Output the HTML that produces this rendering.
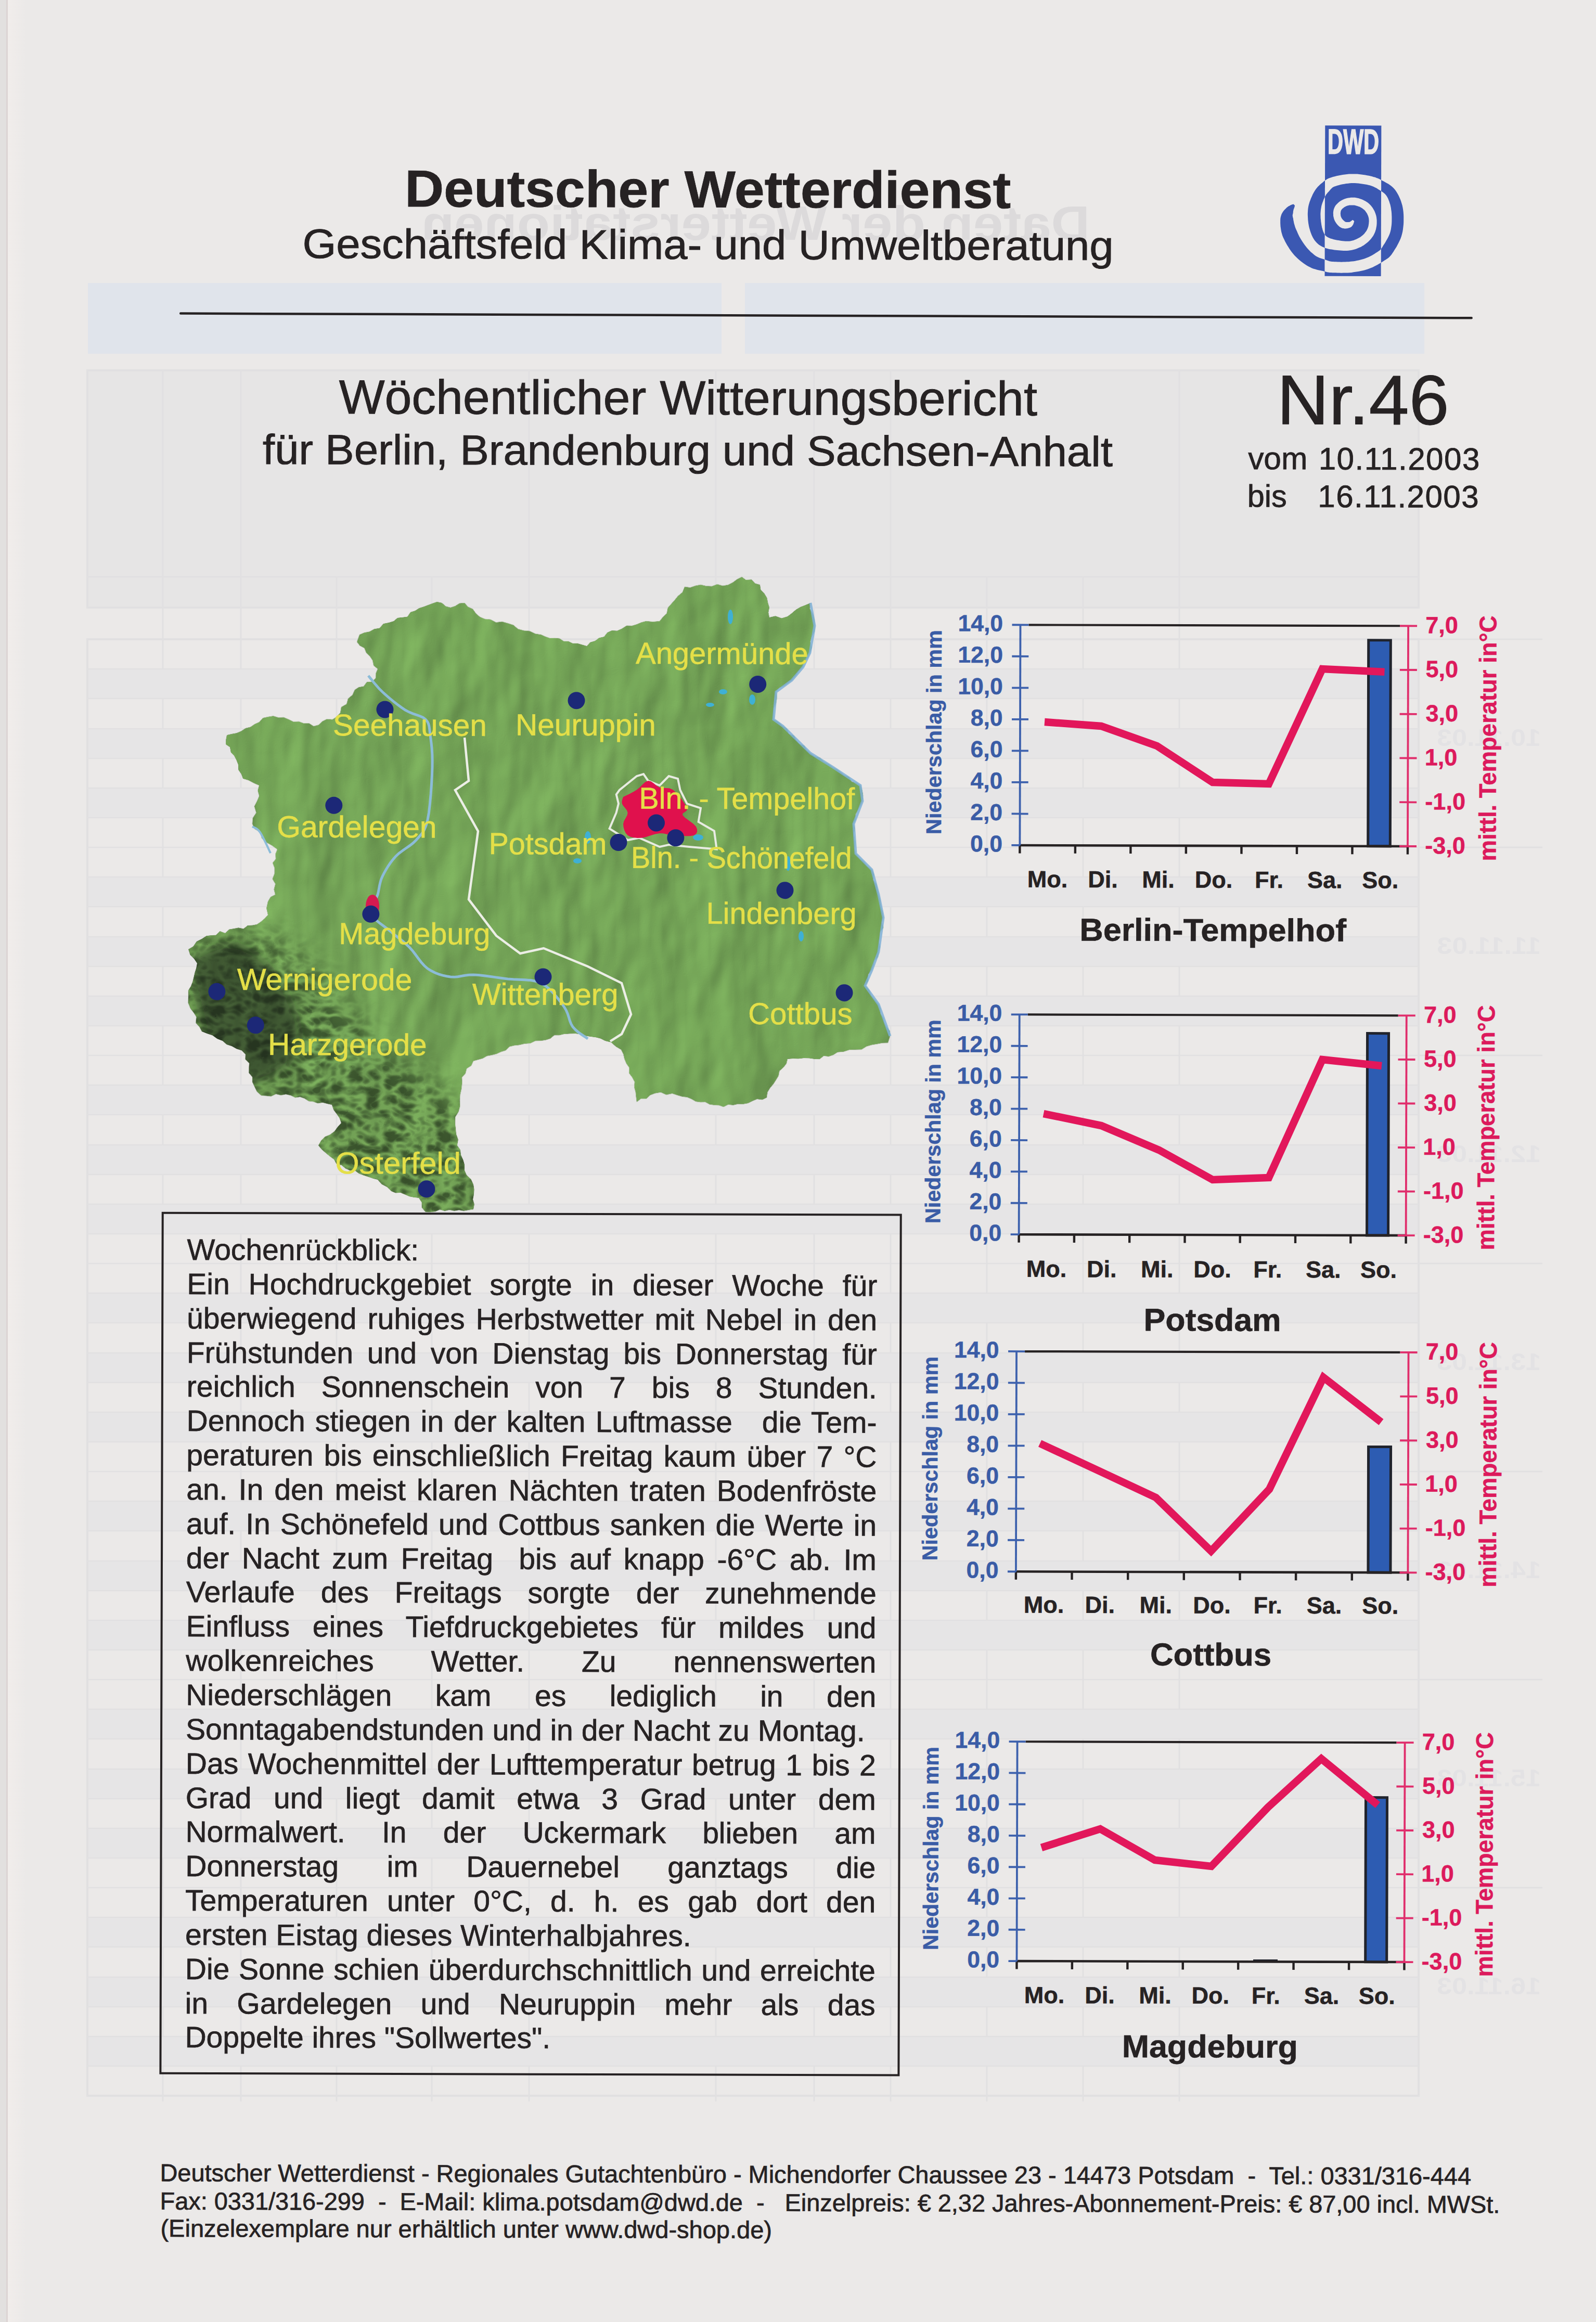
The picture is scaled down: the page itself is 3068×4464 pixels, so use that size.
<!DOCTYPE html>
<html><head><meta charset="utf-8"><title>DWD Witterungsbericht Nr.46</title>
<style>
html,body{margin:0;padding:0;}
body{width:3068px;height:4464px;background:#ebe9e8;position:relative;overflow:hidden;font-family:"Liberation Sans",sans-serif;color:#262223;}
svg{position:absolute;left:0;top:0;overflow:visible;}
svg text{font-family:"Liberation Sans",sans-serif;white-space:pre;}
#page{position:absolute;left:0;top:0;width:3068px;height:4464px;transform:rotate(0.15deg);transform-origin:1534px 2232px;}
.edge{position:absolute;left:0;top:0;width:12px;height:4464px;background:#e2e0df;}
.edge2{position:absolute;left:12px;top:0;width:3px;height:4464px;background:#dcd4d4;}
.edge3{position:absolute;left:15px;top:0;width:35px;height:4464px;background:linear-gradient(to right,#f1edeb,#ebe9e8);}
.box{position:absolute;border:4px solid #262223;box-sizing:border-box;}
.para{position:absolute;width:1327px;font-size:57px;line-height:65.85px;-webkit-text-stroke:0.7px #262223;}
.para div{white-space:nowrap;height:65.85px;}
.para div.j{text-align:justify;text-align-last:justify;white-space:normal;}
</style></head><body>
<div class="edge"></div><div class="edge2"></div><div class="edge3"></div>
<svg width="3068" height="4464" viewBox="0 0 3068 4464"><g opacity="0.55">
<rect x="169" y="544" width="1218" height="136" fill="#d8e0ee"/>
<rect x="1432" y="544" width="1306" height="136" fill="#d8e0ee"/>
<rect x="168" y="712" width="2559" height="456" fill="#e2e2e4" stroke="#dadadd" stroke-width="4"/>
<line x1="168" y1="1109" x2="2727" y2="1109" stroke="#dadadd" stroke-width="3"/>
<line x1="313" y1="712" x2="313" y2="4040" stroke="#dadadd" stroke-width="3"/>
<line x1="463" y1="712" x2="463" y2="4040" stroke="#dadadd" stroke-width="3"/>
<line x1="647" y1="1109" x2="647" y2="4040" stroke="#dadadd" stroke-width="3"/>
<line x1="830" y1="1109" x2="830" y2="4040" stroke="#dadadd" stroke-width="3"/>
<line x1="1017" y1="712" x2="1017" y2="4040" stroke="#dadadd" stroke-width="3"/>
<line x1="1376" y1="712" x2="1376" y2="4040" stroke="#dadadd" stroke-width="3"/>
<line x1="1565" y1="712" x2="1565" y2="4040" stroke="#dadadd" stroke-width="3"/>
<line x1="1712" y1="712" x2="1712" y2="4040" stroke="#dadadd" stroke-width="3"/>
<line x1="1897" y1="1109" x2="1897" y2="4040" stroke="#dadadd" stroke-width="3"/>
<line x1="2082" y1="1109" x2="2082" y2="4040" stroke="#dadadd" stroke-width="3"/>
<line x1="2267" y1="712" x2="2267" y2="4040" stroke="#dadadd" stroke-width="3"/>
<line x1="168" y1="1229" x2="2727" y2="1229" stroke="#dadadd" stroke-width="2.5"/>
<rect x="168" y="1286" width="2559" height="57" fill="#e3e3e5"/>
<line x1="168" y1="1286" x2="2727" y2="1286" stroke="#dadadd" stroke-width="2.5"/>
<line x1="168" y1="1343" x2="2727" y2="1343" stroke="#dadadd" stroke-width="2.5"/>
<rect x="168" y="1401" width="2559" height="57" fill="#e3e3e5"/>
<line x1="168" y1="1401" x2="2727" y2="1401" stroke="#dadadd" stroke-width="2.5"/>
<line x1="168" y1="1458" x2="2727" y2="1458" stroke="#dadadd" stroke-width="2.5"/>
<rect x="168" y="1515" width="2559" height="57" fill="#e3e3e5"/>
<line x1="168" y1="1515" x2="2727" y2="1515" stroke="#dadadd" stroke-width="2.5"/>
<line x1="168" y1="1572" x2="2727" y2="1572" stroke="#dadadd" stroke-width="2.5"/>
<line x1="2727" y1="1229" x2="2965" y2="1229" stroke="#dadadd" stroke-width="3"/>
<text transform="scale(-1,1)" x="-2962" y="1434" font-size="46" font-weight="bold" fill="#dddde1" textLength="200" lengthAdjust="spacingAndGlyphs">10.11.03</text>
<line x1="168" y1="1629" x2="2727" y2="1629" stroke="#dadadd" stroke-width="2.5"/>
<rect x="168" y="1686" width="2559" height="57" fill="#e3e3e5"/>
<line x1="168" y1="1686" x2="2727" y2="1686" stroke="#dadadd" stroke-width="2.5"/>
<line x1="168" y1="1743" x2="2727" y2="1743" stroke="#dadadd" stroke-width="2.5"/>
<rect x="168" y="1801" width="2559" height="57" fill="#e3e3e5"/>
<line x1="168" y1="1801" x2="2727" y2="1801" stroke="#dadadd" stroke-width="2.5"/>
<line x1="168" y1="1858" x2="2727" y2="1858" stroke="#dadadd" stroke-width="2.5"/>
<rect x="168" y="1915" width="2559" height="57" fill="#e3e3e5"/>
<line x1="168" y1="1915" x2="2727" y2="1915" stroke="#dadadd" stroke-width="2.5"/>
<line x1="168" y1="1972" x2="2727" y2="1972" stroke="#dadadd" stroke-width="2.5"/>
<line x1="2727" y1="1629" x2="2965" y2="1629" stroke="#dadadd" stroke-width="3"/>
<text transform="scale(-1,1)" x="-2962" y="1834" font-size="46" font-weight="bold" fill="#dddde1" textLength="200" lengthAdjust="spacingAndGlyphs">11.11.03</text>
<line x1="168" y1="2029" x2="2727" y2="2029" stroke="#dadadd" stroke-width="2.5"/>
<rect x="168" y="2086" width="2559" height="57" fill="#e3e3e5"/>
<line x1="168" y1="2086" x2="2727" y2="2086" stroke="#dadadd" stroke-width="2.5"/>
<line x1="168" y1="2143" x2="2727" y2="2143" stroke="#dadadd" stroke-width="2.5"/>
<rect x="168" y="2201" width="2559" height="57" fill="#e3e3e5"/>
<line x1="168" y1="2201" x2="2727" y2="2201" stroke="#dadadd" stroke-width="2.5"/>
<line x1="168" y1="2258" x2="2727" y2="2258" stroke="#dadadd" stroke-width="2.5"/>
<rect x="168" y="2315" width="2559" height="57" fill="#e3e3e5"/>
<line x1="168" y1="2315" x2="2727" y2="2315" stroke="#dadadd" stroke-width="2.5"/>
<line x1="168" y1="2372" x2="2727" y2="2372" stroke="#dadadd" stroke-width="2.5"/>
<line x1="2727" y1="2029" x2="2965" y2="2029" stroke="#dadadd" stroke-width="3"/>
<text transform="scale(-1,1)" x="-2962" y="2234" font-size="46" font-weight="bold" fill="#dddde1" textLength="200" lengthAdjust="spacingAndGlyphs">12.11.03</text>
<line x1="168" y1="2429" x2="2727" y2="2429" stroke="#dadadd" stroke-width="2.5"/>
<rect x="168" y="2486" width="2559" height="57" fill="#e3e3e5"/>
<line x1="168" y1="2486" x2="2727" y2="2486" stroke="#dadadd" stroke-width="2.5"/>
<line x1="168" y1="2543" x2="2727" y2="2543" stroke="#dadadd" stroke-width="2.5"/>
<rect x="168" y="2601" width="2559" height="57" fill="#e3e3e5"/>
<line x1="168" y1="2601" x2="2727" y2="2601" stroke="#dadadd" stroke-width="2.5"/>
<line x1="168" y1="2658" x2="2727" y2="2658" stroke="#dadadd" stroke-width="2.5"/>
<rect x="168" y="2715" width="2559" height="57" fill="#e3e3e5"/>
<line x1="168" y1="2715" x2="2727" y2="2715" stroke="#dadadd" stroke-width="2.5"/>
<line x1="168" y1="2772" x2="2727" y2="2772" stroke="#dadadd" stroke-width="2.5"/>
<line x1="2727" y1="2429" x2="2965" y2="2429" stroke="#dadadd" stroke-width="3"/>
<text transform="scale(-1,1)" x="-2962" y="2634" font-size="46" font-weight="bold" fill="#dddde1" textLength="200" lengthAdjust="spacingAndGlyphs">13.11.03</text>
<line x1="168" y1="2829" x2="2727" y2="2829" stroke="#dadadd" stroke-width="2.5"/>
<rect x="168" y="2886" width="2559" height="57" fill="#e3e3e5"/>
<line x1="168" y1="2886" x2="2727" y2="2886" stroke="#dadadd" stroke-width="2.5"/>
<line x1="168" y1="2943" x2="2727" y2="2943" stroke="#dadadd" stroke-width="2.5"/>
<rect x="168" y="3001" width="2559" height="57" fill="#e3e3e5"/>
<line x1="168" y1="3001" x2="2727" y2="3001" stroke="#dadadd" stroke-width="2.5"/>
<line x1="168" y1="3058" x2="2727" y2="3058" stroke="#dadadd" stroke-width="2.5"/>
<rect x="168" y="3115" width="2559" height="57" fill="#e3e3e5"/>
<line x1="168" y1="3115" x2="2727" y2="3115" stroke="#dadadd" stroke-width="2.5"/>
<line x1="168" y1="3172" x2="2727" y2="3172" stroke="#dadadd" stroke-width="2.5"/>
<line x1="2727" y1="2829" x2="2965" y2="2829" stroke="#dadadd" stroke-width="3"/>
<text transform="scale(-1,1)" x="-2962" y="3034" font-size="46" font-weight="bold" fill="#dddde1" textLength="200" lengthAdjust="spacingAndGlyphs">14.11.03</text>
<line x1="168" y1="3229" x2="2727" y2="3229" stroke="#dadadd" stroke-width="2.5"/>
<rect x="168" y="3286" width="2559" height="57" fill="#e3e3e5"/>
<line x1="168" y1="3286" x2="2727" y2="3286" stroke="#dadadd" stroke-width="2.5"/>
<line x1="168" y1="3343" x2="2727" y2="3343" stroke="#dadadd" stroke-width="2.5"/>
<rect x="168" y="3401" width="2559" height="57" fill="#e3e3e5"/>
<line x1="168" y1="3401" x2="2727" y2="3401" stroke="#dadadd" stroke-width="2.5"/>
<line x1="168" y1="3458" x2="2727" y2="3458" stroke="#dadadd" stroke-width="2.5"/>
<rect x="168" y="3515" width="2559" height="57" fill="#e3e3e5"/>
<line x1="168" y1="3515" x2="2727" y2="3515" stroke="#dadadd" stroke-width="2.5"/>
<line x1="168" y1="3572" x2="2727" y2="3572" stroke="#dadadd" stroke-width="2.5"/>
<line x1="2727" y1="3229" x2="2965" y2="3229" stroke="#dadadd" stroke-width="3"/>
<text transform="scale(-1,1)" x="-2962" y="3434" font-size="46" font-weight="bold" fill="#dddde1" textLength="200" lengthAdjust="spacingAndGlyphs">15.11.03</text>
<line x1="168" y1="3629" x2="2727" y2="3629" stroke="#dadadd" stroke-width="2.5"/>
<rect x="168" y="3686" width="2559" height="57" fill="#e3e3e5"/>
<line x1="168" y1="3686" x2="2727" y2="3686" stroke="#dadadd" stroke-width="2.5"/>
<line x1="168" y1="3743" x2="2727" y2="3743" stroke="#dadadd" stroke-width="2.5"/>
<rect x="168" y="3801" width="2559" height="57" fill="#e3e3e5"/>
<line x1="168" y1="3801" x2="2727" y2="3801" stroke="#dadadd" stroke-width="2.5"/>
<line x1="168" y1="3858" x2="2727" y2="3858" stroke="#dadadd" stroke-width="2.5"/>
<rect x="168" y="3915" width="2559" height="57" fill="#e3e3e5"/>
<line x1="168" y1="3915" x2="2727" y2="3915" stroke="#dadadd" stroke-width="2.5"/>
<line x1="168" y1="3972" x2="2727" y2="3972" stroke="#dadadd" stroke-width="2.5"/>
<line x1="2727" y1="3629" x2="2965" y2="3629" stroke="#dadadd" stroke-width="3"/>
<text transform="scale(-1,1)" x="-2962" y="3834" font-size="46" font-weight="bold" fill="#dddde1" textLength="200" lengthAdjust="spacingAndGlyphs">16.11.03</text>
<rect x="168" y="1229" width="2559" height="2800" fill="none" stroke="#dadadd" stroke-width="4"/>
</g>
<text transform="scale(-1,1)" x="-2095" y="461" font-size="92" font-weight="bold" fill="#d6d5d6" opacity="0.7" textLength="1285" lengthAdjust="spacingAndGlyphs">Daten der Wetterstationen</text></svg>
<div id="page">
<svg width="3068" height="4464" viewBox="0 0 3068 4464">
<text x="773.2" y="399.0" font-size="100" font-weight="bold" fill="#262223" stroke="#262223" stroke-width="0.8" textLength="1165.2" lengthAdjust="spacingAndGlyphs">Deutscher Wetterdienst</text>
<text x="576.9" y="498.5" font-size="79.5" fill="#262223" stroke="#262223" stroke-width="0.9" textLength="1559.1" lengthAdjust="spacingAndGlyphs">Geschäftsfeld Klima- und Umweltberatung</text>
<line x1="342.9" y1="605.7" x2="2824.4" y2="607.9" stroke="#262223" stroke-width="4.5" stroke-linecap="round"/>
<text x="647.7" y="797.3" font-size="92.5" fill="#262223" stroke="#262223" stroke-width="0.9" textLength="1342.4" lengthAdjust="spacingAndGlyphs">Wöchentlicher Witterungsbericht</text>
<text x="501.3" y="894.7" font-size="81" fill="#262223" stroke="#262223" stroke-width="0.9" textLength="1634.0" lengthAdjust="spacingAndGlyphs">für Berlin, Brandenburg und Sachsen-Anhalt</text>
<text x="2450.9" y="812.8" font-size="135" fill="#262223" stroke="#262223" stroke-width="1.0" textLength="330.9" lengthAdjust="spacingAndGlyphs">Nr.46</text>
<text x="2395.7" y="899.7" font-size="60" fill="#262223" stroke="#262223" stroke-width="0.8" textLength="114.0" lengthAdjust="spacingAndGlyphs">vom</text>
<text x="2531.2" y="899.9" font-size="60" fill="#262223" stroke="#262223" stroke-width="0.8" textLength="309.6" lengthAdjust="spacing">10.11.2003</text>
<text x="2394.5" y="972.0" font-size="60" fill="#262223" stroke="#262223" stroke-width="0.8" textLength="75.8" lengthAdjust="spacingAndGlyphs">bis</text>
<text x="2530.0" y="972.2" font-size="60" fill="#262223" stroke="#262223" stroke-width="0.8" textLength="309.3" lengthAdjust="spacing">16.11.2003</text>
<g transform="translate(2434.7,217.6) scale(0.175439)">
<defs><clipPath id="lrect"><rect x="612" y="120" width="616" height="1650"/></clipPath><mask id="lout"><rect x="0" y="0" width="1700" height="2000" fill="#fff"/><rect x="612" y="120" width="616" height="1650" fill="#000"/></mask></defs>
<path d="M917,1154 L913,1156 L908,1159 L904,1163 L899,1167 L894,1171 L888,1174 L883,1177 L879,1178 L876,1178 L873,1177 L870,1178 L864,1178 L859,1178 L853,1178 L847,1178 L842,1177 L837,1175 L833,1174 L831,1172 L829,1170 L826,1168 L822,1164 L817,1160 L811,1155 L806,1148 L801,1142 L797,1136 L793,1129 L790,1123 L788,1118 L786,1112 L785,1105 L784,1097 L783,1089 L783,1081 L784,1073 L785,1066 L786,1059 L788,1053 L790,1049 L793,1044 L797,1039 L802,1033 L808,1027 L815,1022 L822,1016 L830,1011 L838,1007 L846,1003 L854,1000 L862,997 L871,995 L880,993 L890,992 L901,992 L911,992 L921,992 L932,993 L941,994 L951,996 L960,999 L971,1002 L981,1006 L992,1010 L1002,1015 L1012,1021 L1022,1026 L1030,1033 L1038,1039 L1045,1045 L1052,1052 L1058,1060 L1064,1069 L1070,1078 L1076,1087 L1080,1097 L1085,1107 L1088,1117 L1091,1127 L1093,1137 L1094,1148 L1095,1159 L1095,1171 L1094,1183 L1093,1196 L1091,1209 L1089,1221 L1086,1232 L1082,1243 L1078,1253 L1074,1262 L1069,1271 L1063,1280 L1056,1289 L1049,1298 L1042,1307 L1033,1315 L1025,1323 L1016,1330 L1007,1337 L997,1344 L986,1350 L975,1356 L964,1362 L952,1367 L940,1372 L928,1377 L915,1380 L903,1383 L891,1386 L879,1387 L866,1388 L852,1388 L837,1387 L822,1386 L807,1384 L792,1383 L777,1380 L762,1378 L748,1376 L734,1373 L721,1370 L708,1368 L696,1364 L685,1361 L674,1358 L664,1354 L655,1350 L648,1346 L641,1342 L634,1338 L628,1334 L624,1329 L619,1325 L616,1321 L612,1316 L609,1311 L605,1305 L601,1298 L598,1290 L594,1282 L591,1272 L587,1261 L584,1249 L580,1237 L578,1224 L575,1211 L573,1197 L571,1184 L569,1171 L568,1157 L566,1143 L565,1129 L565,1114 L564,1099 L564,1085 L565,1071 L566,1057 L567,1044 L569,1032 L571,1020 L573,1007 L576,995 L580,982 L584,969 L589,956 L594,943 L598,931 L603,920 L608,910 L612,901 L616,893 L620,886 L623,880 L627,874 L632,869 L636,863 L641,857 L647,850 L654,843 L661,835 L667,828 L673,821 L678,815 L683,810 L687,806 L693,801 L699,797 L707,792 L717,788 L731,783 L747,778 L764,773 L783,768 L803,764 L823,760 L844,756 L864,754 L884,751 L902,750 L920,750 L939,750 L959,751 L979,753 L998,755 L1018,758 L1037,761 L1055,764 L1073,767 L1089,771 L1103,774 L1116,778 L1128,782 L1139,787 L1149,791 L1159,796 L1169,801 L1180,807 L1190,813 L1201,820 L1213,828 L1225,835 L1236,842 L1246,849 L1256,856 L1264,864 L1272,871 L1279,879 L1286,887 L1292,897 L1298,908 L1305,922 L1311,937 L1317,952 L1322,969 L1328,986 L1332,1004 L1336,1022 L1338,1040 L1341,1058 L1343,1078 L1344,1099 L1345,1121 L1345,1144 L1345,1167 L1344,1191 L1342,1213 L1339,1235 L1336,1256 L1332,1274 L1327,1292 L1321,1309 L1313,1328 L1304,1346 L1294,1365 L1284,1382 L1274,1400 L1264,1416 L1254,1431 L1246,1445 L1239,1456 L1234,1463 L1230,1469 L1228,1473 L1225,1476 L1223,1478 L1219,1482 L1213,1487 L1204,1493 L1194,1500 L1183,1508 L1171,1515 L1159,1523 L1145,1532 L1131,1540 L1117,1547 L1103,1555 L1088,1562 L1073,1568 L1059,1574 L1044,1579 L1029,1584 L1013,1588 L997,1592 L980,1596 L963,1600 L946,1603 L929,1606 L911,1608 L894,1610 L876,1612 L856,1613 L836,1614 L815,1614 L794,1615 L774,1614 L754,1614 L735,1613 L718,1613 L703,1612 L691,1611 L682,1610 L675,1609 L670,1608 L666,1607 L662,1606 L656,1604 L649,1602 L640,1599 L629,1595 L616,1591 L603,1586 L590,1582 L576,1578 L563,1573 L551,1569 L539,1563 L527,1558 L517,1552 L506,1545 L495,1537 L484,1527 L472,1517 L459,1506 L447,1494 L436,1482 L424,1470 L413,1457 L402,1443 L392,1430 L382,1416 L372,1401 L361,1385 L351,1369 L341,1351 L331,1334 L323,1317 L315,1300 L308,1284 L302,1270 L296,1257 L290,1243 L285,1229 L281,1215 L277,1202 L273,1188 L271,1175 L268,1162 L266,1151 L265,1141 L263,1133 L261,1128 L260,1122 L259,1116 L258,1110 L258,1104 L259,1097 L261,1089 L263,1080 L264,1072 L264,1065 L265,1058 L267,1050 L269,1041 L272,1033 L275,1025 L278,1017 L280,1009 L282,1003 L282,997 L268,983 L262,984 L256,986 L248,988 L240,992 L232,996 L223,1001 L213,1006 L204,1013 L194,1020 L186,1028 L179,1035 L173,1041 L166,1048 L159,1057 L152,1067 L145,1079 L138,1092 L133,1106 L128,1123 L125,1139 L124,1156 L124,1172 L124,1190 L125,1208 L126,1227 L129,1247 L132,1267 L136,1288 L142,1309 L148,1330 L157,1351 L167,1371 L177,1392 L188,1412 L200,1433 L213,1453 L226,1474 L239,1493 L253,1512 L268,1530 L283,1547 L299,1563 L315,1578 L331,1593 L348,1607 L365,1620 L382,1632 L399,1644 L416,1655 L434,1665 L452,1674 L471,1683 L490,1690 L508,1695 L525,1700 L542,1704 L557,1707 L571,1710 L584,1713 L595,1715 L604,1718 L613,1720 L621,1722 L630,1724 L639,1727 L649,1728 L659,1730 L670,1731 L683,1731 L697,1732 L713,1733 L731,1733 L751,1734 L772,1734 L794,1735 L817,1734 L840,1734 L863,1733 L885,1732 L906,1730 L927,1727 L947,1724 L967,1721 L986,1718 L1006,1713 L1026,1709 L1045,1704 L1064,1699 L1082,1693 L1101,1686 L1119,1679 L1138,1671 L1156,1662 L1173,1653 L1190,1644 L1206,1635 L1222,1626 L1236,1617 L1249,1608 L1262,1600 L1272,1593 L1281,1588 L1290,1582 L1300,1576 L1309,1568 L1319,1560 L1328,1550 L1337,1540 L1346,1528 L1354,1515 L1364,1501 L1374,1485 L1385,1467 L1397,1448 L1408,1427 L1420,1404 L1431,1381 L1442,1357 L1451,1332 L1458,1306 L1464,1280 L1468,1254 L1471,1227 L1474,1199 L1475,1172 L1475,1145 L1475,1118 L1474,1091 L1472,1066 L1469,1042 L1465,1018 L1460,994 L1453,971 L1446,949 L1438,927 L1429,907 L1420,887 L1410,868 L1399,850 L1388,833 L1376,817 L1362,802 L1348,789 L1334,777 L1320,767 L1306,758 L1292,750 L1279,743 L1267,736 L1255,730 L1242,723 L1230,716 L1217,709 L1203,703 L1190,697 L1176,692 L1161,686 L1145,682 L1129,677 L1111,673 L1093,669 L1074,666 L1054,662 L1032,659 L1011,656 L988,653 L966,651 L943,650 L920,650 L898,650 L875,651 L852,653 L829,656 L806,659 L783,663 L761,668 L739,673 L719,678 L700,683 L683,688 L666,694 L650,700 L636,707 L624,715 L612,723 L602,730 L593,738 L585,745 L578,751 L570,757 L562,764 L554,771 L546,779 L538,787 L530,796 L522,805 L514,816 L507,826 L499,838 L492,850 L485,863 L478,876 L472,890 L465,905 L458,921 L452,938 L445,955 L440,972 L435,990 L431,1008 L428,1027 L426,1045 L425,1064 L424,1082 L424,1101 L425,1119 L426,1137 L427,1155 L429,1172 L431,1189 L434,1206 L437,1223 L441,1240 L446,1257 L451,1274 L456,1290 L462,1306 L468,1321 L475,1336 L482,1350 L490,1363 L498,1375 L506,1386 L516,1397 L525,1407 L536,1417 L547,1426 L559,1434 L571,1441 L583,1448 L597,1454 L612,1460 L626,1465 L641,1469 L656,1473 L671,1476 L686,1478 L702,1481 L717,1483 L732,1484 L748,1486 L764,1488 L781,1489 L799,1490 L817,1491 L835,1491 L854,1491 L872,1490 L891,1487 L909,1484 L926,1480 L943,1475 L960,1470 L976,1463 L992,1456 L1008,1449 L1023,1440 L1037,1432 L1050,1423 L1063,1413 L1076,1403 L1088,1392 L1099,1381 L1110,1369 L1121,1357 L1130,1344 L1140,1331 L1148,1317 L1155,1302 L1162,1287 L1167,1271 L1172,1255 L1175,1239 L1178,1222 L1180,1205 L1181,1188 L1181,1172 L1181,1155 L1179,1139 L1177,1123 L1174,1107 L1169,1092 L1164,1077 L1158,1062 L1151,1048 L1143,1034 L1135,1021 L1125,1008 L1116,996 L1105,985 L1093,974 L1081,964 L1068,955 L1054,947 L1040,939 L1026,933 L1012,927 L998,922 L983,917 L969,914 L955,911 L940,909 L925,909 L910,909 L896,909 L881,911 L867,913 L853,916 L839,920 L826,924 L813,930 L801,936 L789,943 L777,950 L766,959 L755,968 L745,978 L735,988 L727,999 L720,1011 L714,1024 L709,1038 L706,1051 L704,1065 L703,1078 L704,1092 L704,1105 L706,1118 L709,1130 L712,1142 L717,1155 L722,1167 L729,1178 L736,1189 L744,1199 L752,1209 L761,1218 L770,1226 L780,1233 L791,1240 L803,1245 L816,1247 L828,1249 L839,1249 L850,1247 L861,1246 L870,1243 L880,1240 L888,1237 L897,1233 L906,1226 L913,1218 L918,1210 L923,1202 L926,1194 L928,1187 L930,1180 L932,1175 L933,1170 L933,1166 Z" fill="#3b58b2" mask="url(#lout)"/>
<rect x="612" y="120" width="616" height="1650" fill="#3b58b2"/>
<path d="M917,1154 L913,1156 L908,1159 L904,1163 L899,1167 L894,1171 L888,1174 L883,1177 L879,1178 L876,1178 L873,1177 L870,1178 L864,1178 L859,1178 L853,1178 L847,1178 L842,1177 L837,1175 L833,1174 L831,1172 L829,1170 L826,1168 L822,1164 L817,1160 L811,1155 L806,1148 L801,1142 L797,1136 L793,1129 L790,1123 L788,1118 L786,1112 L785,1105 L784,1097 L783,1089 L783,1081 L784,1073 L785,1066 L786,1059 L788,1053 L790,1049 L793,1044 L797,1039 L802,1033 L808,1027 L815,1022 L822,1016 L830,1011 L838,1007 L846,1003 L854,1000 L862,997 L871,995 L880,993 L890,992 L901,992 L911,992 L921,992 L932,993 L941,994 L951,996 L960,999 L971,1002 L981,1006 L992,1010 L1002,1015 L1012,1021 L1022,1026 L1030,1033 L1038,1039 L1045,1045 L1052,1052 L1058,1060 L1064,1069 L1070,1078 L1076,1087 L1080,1097 L1085,1107 L1088,1117 L1091,1127 L1093,1137 L1094,1148 L1095,1159 L1095,1171 L1094,1183 L1093,1196 L1091,1209 L1089,1221 L1086,1232 L1082,1243 L1078,1253 L1074,1262 L1069,1271 L1063,1280 L1056,1289 L1049,1298 L1042,1307 L1033,1315 L1025,1323 L1016,1330 L1007,1337 L997,1344 L986,1350 L975,1356 L964,1362 L952,1367 L940,1372 L928,1377 L915,1380 L903,1383 L891,1386 L879,1387 L866,1388 L852,1388 L837,1387 L822,1386 L807,1384 L792,1383 L777,1380 L762,1378 L748,1376 L734,1373 L721,1370 L708,1368 L696,1364 L685,1361 L674,1358 L664,1354 L655,1350 L648,1346 L641,1342 L634,1338 L628,1334 L624,1329 L619,1325 L616,1321 L612,1316 L609,1311 L605,1305 L601,1298 L598,1290 L594,1282 L591,1272 L587,1261 L584,1249 L580,1237 L578,1224 L575,1211 L573,1197 L571,1184 L569,1171 L568,1157 L566,1143 L565,1129 L565,1114 L564,1099 L564,1085 L565,1071 L566,1057 L567,1044 L569,1032 L571,1020 L573,1007 L576,995 L580,982 L584,969 L589,956 L594,943 L598,931 L603,920 L608,910 L612,901 L616,893 L620,886 L623,880 L627,874 L632,869 L636,863 L641,857 L647,850 L654,843 L661,835 L667,828 L673,821 L678,815 L683,810 L687,806 L693,801 L699,797 L707,792 L717,788 L731,783 L747,778 L764,773 L783,768 L803,764 L823,760 L844,756 L864,754 L884,751 L902,750 L920,750 L939,750 L959,751 L979,753 L998,755 L1018,758 L1037,761 L1055,764 L1073,767 L1089,771 L1103,774 L1116,778 L1128,782 L1139,787 L1149,791 L1159,796 L1169,801 L1180,807 L1190,813 L1201,820 L1213,828 L1225,835 L1236,842 L1246,849 L1256,856 L1264,864 L1272,871 L1279,879 L1286,887 L1292,897 L1298,908 L1305,922 L1311,937 L1317,952 L1322,969 L1328,986 L1332,1004 L1336,1022 L1338,1040 L1341,1058 L1343,1078 L1344,1099 L1345,1121 L1345,1144 L1345,1167 L1344,1191 L1342,1213 L1339,1235 L1336,1256 L1332,1274 L1327,1292 L1321,1309 L1313,1328 L1304,1346 L1294,1365 L1284,1382 L1274,1400 L1264,1416 L1254,1431 L1246,1445 L1239,1456 L1234,1463 L1230,1469 L1228,1473 L1225,1476 L1223,1478 L1219,1482 L1213,1487 L1204,1493 L1194,1500 L1183,1508 L1171,1515 L1159,1523 L1145,1532 L1131,1540 L1117,1547 L1103,1555 L1088,1562 L1073,1568 L1059,1574 L1044,1579 L1029,1584 L1013,1588 L997,1592 L980,1596 L963,1600 L946,1603 L929,1606 L911,1608 L894,1610 L876,1612 L856,1613 L836,1614 L815,1614 L794,1615 L774,1614 L754,1614 L735,1613 L718,1613 L703,1612 L691,1611 L682,1610 L675,1609 L670,1608 L666,1607 L662,1606 L656,1604 L649,1602 L640,1599 L629,1595 L616,1591 L603,1586 L590,1582 L576,1578 L563,1573 L551,1569 L539,1563 L527,1558 L517,1552 L506,1545 L495,1537 L484,1527 L472,1517 L459,1506 L447,1494 L436,1482 L424,1470 L413,1457 L402,1443 L392,1430 L382,1416 L372,1401 L361,1385 L351,1369 L341,1351 L331,1334 L323,1317 L315,1300 L308,1284 L302,1270 L296,1257 L290,1243 L285,1229 L281,1215 L277,1202 L273,1188 L271,1175 L268,1162 L266,1151 L265,1141 L263,1133 L261,1128 L260,1122 L259,1116 L258,1110 L258,1104 L259,1097 L261,1089 L263,1080 L264,1072 L264,1065 L265,1058 L267,1050 L269,1041 L272,1033 L275,1025 L278,1017 L280,1009 L282,1003 L282,997 L268,983 L262,984 L256,986 L248,988 L240,992 L232,996 L223,1001 L213,1006 L204,1013 L194,1020 L186,1028 L179,1035 L173,1041 L166,1048 L159,1057 L152,1067 L145,1079 L138,1092 L133,1106 L128,1123 L125,1139 L124,1156 L124,1172 L124,1190 L125,1208 L126,1227 L129,1247 L132,1267 L136,1288 L142,1309 L148,1330 L157,1351 L167,1371 L177,1392 L188,1412 L200,1433 L213,1453 L226,1474 L239,1493 L253,1512 L268,1530 L283,1547 L299,1563 L315,1578 L331,1593 L348,1607 L365,1620 L382,1632 L399,1644 L416,1655 L434,1665 L452,1674 L471,1683 L490,1690 L508,1695 L525,1700 L542,1704 L557,1707 L571,1710 L584,1713 L595,1715 L604,1718 L613,1720 L621,1722 L630,1724 L639,1727 L649,1728 L659,1730 L670,1731 L683,1731 L697,1732 L713,1733 L731,1733 L751,1734 L772,1734 L794,1735 L817,1734 L840,1734 L863,1733 L885,1732 L906,1730 L927,1727 L947,1724 L967,1721 L986,1718 L1006,1713 L1026,1709 L1045,1704 L1064,1699 L1082,1693 L1101,1686 L1119,1679 L1138,1671 L1156,1662 L1173,1653 L1190,1644 L1206,1635 L1222,1626 L1236,1617 L1249,1608 L1262,1600 L1272,1593 L1281,1588 L1290,1582 L1300,1576 L1309,1568 L1319,1560 L1328,1550 L1337,1540 L1346,1528 L1354,1515 L1364,1501 L1374,1485 L1385,1467 L1397,1448 L1408,1427 L1420,1404 L1431,1381 L1442,1357 L1451,1332 L1458,1306 L1464,1280 L1468,1254 L1471,1227 L1474,1199 L1475,1172 L1475,1145 L1475,1118 L1474,1091 L1472,1066 L1469,1042 L1465,1018 L1460,994 L1453,971 L1446,949 L1438,927 L1429,907 L1420,887 L1410,868 L1399,850 L1388,833 L1376,817 L1362,802 L1348,789 L1334,777 L1320,767 L1306,758 L1292,750 L1279,743 L1267,736 L1255,730 L1242,723 L1230,716 L1217,709 L1203,703 L1190,697 L1176,692 L1161,686 L1145,682 L1129,677 L1111,673 L1093,669 L1074,666 L1054,662 L1032,659 L1011,656 L988,653 L966,651 L943,650 L920,650 L898,650 L875,651 L852,653 L829,656 L806,659 L783,663 L761,668 L739,673 L719,678 L700,683 L683,688 L666,694 L650,700 L636,707 L624,715 L612,723 L602,730 L593,738 L585,745 L578,751 L570,757 L562,764 L554,771 L546,779 L538,787 L530,796 L522,805 L514,816 L507,826 L499,838 L492,850 L485,863 L478,876 L472,890 L465,905 L458,921 L452,938 L445,955 L440,972 L435,990 L431,1008 L428,1027 L426,1045 L425,1064 L424,1082 L424,1101 L425,1119 L426,1137 L427,1155 L429,1172 L431,1189 L434,1206 L437,1223 L441,1240 L446,1257 L451,1274 L456,1290 L462,1306 L468,1321 L475,1336 L482,1350 L490,1363 L498,1375 L506,1386 L516,1397 L525,1407 L536,1417 L547,1426 L559,1434 L571,1441 L583,1448 L597,1454 L612,1460 L626,1465 L641,1469 L656,1473 L671,1476 L686,1478 L702,1481 L717,1483 L732,1484 L748,1486 L764,1488 L781,1489 L799,1490 L817,1491 L835,1491 L854,1491 L872,1490 L891,1487 L909,1484 L926,1480 L943,1475 L960,1470 L976,1463 L992,1456 L1008,1449 L1023,1440 L1037,1432 L1050,1423 L1063,1413 L1076,1403 L1088,1392 L1099,1381 L1110,1369 L1121,1357 L1130,1344 L1140,1331 L1148,1317 L1155,1302 L1162,1287 L1167,1271 L1172,1255 L1175,1239 L1178,1222 L1180,1205 L1181,1188 L1181,1172 L1181,1155 L1179,1139 L1177,1123 L1174,1107 L1169,1092 L1164,1077 L1158,1062 L1151,1048 L1143,1034 L1135,1021 L1125,1008 L1116,996 L1105,985 L1093,974 L1081,964 L1068,955 L1054,947 L1040,939 L1026,933 L1012,927 L998,922 L983,917 L969,914 L955,911 L940,909 L925,909 L910,909 L896,909 L881,911 L867,913 L853,916 L839,920 L826,924 L813,930 L801,936 L789,943 L777,950 L766,959 L755,968 L745,978 L735,988 L727,999 L720,1011 L714,1024 L709,1038 L706,1051 L704,1065 L703,1078 L704,1092 L704,1105 L706,1118 L709,1130 L712,1142 L717,1155 L722,1167 L729,1178 L736,1189 L744,1199 L752,1209 L761,1218 L770,1226 L780,1233 L791,1240 L803,1245 L816,1247 L828,1249 L839,1249 L850,1247 L861,1246 L870,1243 L880,1240 L888,1237 L897,1233 L906,1226 L913,1218 L918,1210 L923,1202 L926,1194 L928,1187 L930,1180 L932,1175 L933,1170 L933,1166 Z" fill="#ebe9e8" clip-path="url(#lrect)"/>
<text x="922" y="428" font-size="385" font-weight="bold" fill="#ebe9e8" stroke="#ebe9e8" stroke-width="10" text-anchor="middle" textLength="565" lengthAdjust="spacingAndGlyphs">DWD</text>
</g>
<defs><clipPath id="mapclip"><path d="M837.2,1158.8 L828.6,1161.8 L820.0,1164.9 L811.5,1168.3 L802.9,1171.1 L795.1,1176.0 L786.3,1178.7 L780.4,1187.6 L771.0,1188.8 L761.4,1189.7 L754.3,1196.0 L744.5,1198.9 L734.5,1201.1 L726.9,1209.6 L716.7,1211.2 L707.8,1216.2 L697.7,1218.2 L688.4,1222.2 L683.4,1236.2 L689.0,1243.5 L697.8,1248.2 L701.4,1257.2 L708.4,1263.9 L713.6,1271.8 L715.8,1281.9 L723.5,1288.1 L719.9,1296.8 L719.6,1306.1 L712.6,1312.5 L702.7,1313.3 L696.7,1321.4 L687.3,1323.2 L679.6,1328.2 L675.1,1338.2 L666.7,1345.3 L663.9,1355.7 L653.7,1361.5 L651.8,1372.5 L644.8,1380.3 L636.7,1385.6 L626.0,1384.7 L617.5,1389.0 L610.1,1396.1 L600.8,1398.4 L592.0,1393.0 L581.7,1393.0 L572.3,1389.6 L561.9,1390.0 L552.8,1385.6 L543.1,1381.5 L532.9,1381.9 L523.1,1378.9 L512.8,1380.7 L503.0,1382.9 L496.2,1390.7 L487.4,1394.7 L479.4,1400.3 L469.8,1402.8 L461.6,1408.2 L452.8,1411.9 L443.3,1413.8 L433.9,1415.9 L432.2,1424.8 L431.9,1433.9 L439.8,1439.3 L441.7,1449.2 L448.0,1455.8 L452.4,1464.3 L455.9,1473.0 L456.3,1483.0 L461.8,1491.0 L465.1,1499.8 L475.9,1503.0 L485.8,1508.3 L496.1,1512.7 L493.5,1522.5 L496.3,1533.1 L492.2,1542.7 L487.0,1553.1 L490.7,1565.3 L484.0,1575.4 L483.3,1586.7 L488.1,1596.8 L498.8,1602.4 L501.4,1614.0 L509.4,1621.7 L520.9,1627.9 L531.4,1635.6 L528.0,1644.1 L528.5,1654.0 L522.5,1661.6 L526.3,1671.6 L526.3,1681.8 L522.2,1692.4 L527.9,1702.1 L525.2,1712.6 L527.7,1722.6 L518.8,1727.1 L513.7,1735.7 L510.9,1748.7 L513.8,1761.7 L507.4,1768.4 L500.4,1774.4 L492.8,1779.7 L484.0,1781.6 L474.8,1782.1 L466.9,1788.2 L457.2,1786.3 L448.3,1788.0 L439.4,1789.6 L431.8,1796.8 L421.7,1793.1 L414.1,1800.5 L404.9,1800.9 L395.9,1802.0 L386.7,1807.9 L376.8,1812.9 L370.3,1822.4 L360.9,1828.1 L364.3,1838.5 L372.1,1846.2 L378.0,1855.0 L376.3,1864.1 L373.5,1872.7 L371.5,1881.7 L369.3,1890.6 L366.1,1899.1 L361.1,1907.1 L361.3,1918.9 L360.7,1930.8 L365.2,1942.1 L371.6,1949.9 L376.7,1958.3 L375.7,1969.8 L382.7,1977.3 L387.4,1986.0 L397.6,1989.9 L408.1,1993.4 L417.1,2000.0 L427.4,2003.9 L435.2,2010.9 L445.2,2014.0 L454.1,2019.0 L464.1,2022.2 L471.5,2029.8 L471.1,2039.2 L478.7,2046.7 L478.1,2056.3 L478.1,2065.6 L484.7,2073.3 L484.6,2082.7 L489.1,2092.2 L493.6,2101.6 L501.7,2108.7 L511.2,2109.5 L520.7,2110.5 L530.2,2106.1 L539.7,2108.2 L549.2,2106.3 L558.7,2108.6 L567.0,2112.7 L576.5,2111.2 L585.1,2114.2 L593.1,2119.6 L602.1,2120.6 L610.7,2123.4 L620.2,2122.1 L629.0,2124.3 L637.7,2126.3 L640.9,2135.8 L646.9,2143.8 L652.5,2151.9 L655.8,2161.3 L648.9,2168.9 L642.8,2177.3 L634.4,2183.4 L624.4,2187.8 L617.2,2195.1 L611.9,2204.4 L618.4,2212.2 L626.0,2218.8 L633.7,2225.2 L641.9,2231.3 L647.0,2240.3 L656.3,2242.3 L664.0,2248.6 L672.5,2252.5 L682.5,2252.7 L690.3,2258.6 L699.1,2261.8 L708.1,2264.7 L716.9,2267.8 L726.1,2270.1 L733.7,2278.7 L744.0,2284.1 L752.2,2292.0 L760.7,2295.5 L770.2,2295.0 L778.7,2298.4 L787.1,2302.3 L796.1,2304.0 L805.2,2304.9 L810.7,2313.3 L811.3,2324.1 L818.3,2331.9 L827.5,2332.3 L836.7,2331.3 L845.7,2327.2 L855.1,2330.1 L864.2,2327.7 L873.5,2329.8 L882.6,2328.0 L892.0,2329.7 L901.1,2328.1 L910.2,2326.6 L912.1,2317.0 L909.2,2307.4 L911.1,2297.8 L911.7,2288.2 L910.1,2278.6 L905.3,2268.4 L897.1,2260.7 L893.1,2251.5 L893.1,2241.0 L890.3,2231.5 L886.1,2222.3 L884.9,2212.3 L878.9,2203.7 L880.8,2192.7 L877.0,2182.2 L876.0,2171.5 L874.8,2160.7 L874.9,2149.3 L881.4,2139.1 L884.2,2128.3 L883.7,2116.7 L884.5,2105.7 L886.9,2094.8 L888.0,2083.8 L887.6,2072.7 L894.3,2065.8 L896.8,2056.0 L905.5,2050.4 L909.5,2041.6 L918.5,2039.0 L927.4,2036.4 L935.7,2031.8 L944.9,2029.9 L954.0,2027.7 L962.5,2023.7 L971.5,2021.1 L978.8,2013.8 L987.9,2011.5 L997.4,2010.4 L1007.8,2008.0 L1018.6,2007.3 L1028.6,2002.6 L1039.4,2002.3 L1048.5,2000.8 L1057.2,1997.9 L1064.9,1991.6 L1074.5,1991.6 L1083.4,1989.2 L1094.5,1988.4 L1105.6,1988.3 L1116.6,1989.8 L1127.4,1993.1 L1136.4,1994.2 L1145.4,1995.5 L1154.1,1997.8 L1162.4,2002.0 L1174.2,2005.0 L1183.2,2013.1 L1193.4,2018.9 L1197.7,2027.4 L1199.8,2036.8 L1203.5,2045.6 L1209.1,2053.6 L1208.7,2064.0 L1214.6,2071.8 L1219.5,2080.8 L1218.8,2090.9 L1221.4,2100.4 L1222.4,2110.1 L1223.7,2119.8 L1231.4,2113.3 L1242.1,2113.2 L1249.6,2106.3 L1258.7,2102.7 L1269.9,2100.7 L1280.6,2105.4 L1291.9,2103.1 L1302.7,2106.6 L1311.4,2109.1 L1320.5,2110.0 L1329.0,2113.6 L1337.2,2118.2 L1346.2,2119.5 L1355.6,2119.2 L1363.8,2123.8 L1372.9,2124.9 L1382.1,2125.4 L1390.7,2128.4 L1399.5,2124.1 L1409.3,2124.9 L1418.5,2122.7 L1428.2,2123.1 L1437.5,2121.2 L1446.2,2116.9 L1455.0,2113.3 L1465.0,2114.6 L1473.7,2110.2 L1475.1,2100.1 L1480.1,2091.7 L1486.6,2084.1 L1491.5,2076.3 L1496.2,2068.5 L1498.0,2059.0 L1505.3,2052.5 L1511.2,2045.3 L1513.5,2036.1 L1523.9,2035.2 L1534.3,2035.6 L1544.7,2034.2 L1555.1,2034.6 L1565.5,2035.9 L1575.1,2036.2 L1582.9,2029.9 L1592.7,2030.9 L1601.4,2028.0 L1609.5,2022.8 L1621.2,2021.7 L1632.6,2017.9 L1644.4,2017.7 L1655.6,2017.6 L1665.1,2011.6 L1675.4,2008.6 L1685.7,2006.7 L1695.9,2004.8 L1706.4,2004.5 L1710.4,1991.5 L1710.1,1981.8 L1704.0,1974.1 L1699.6,1965.9 L1697.6,1956.8 L1692.3,1948.8 L1692.1,1939.0 L1688.2,1930.6 L1681.4,1921.8 L1674.1,1913.4 L1670.1,1902.6 L1662.1,1894.7 L1668.3,1885.5 L1667.9,1873.4 L1675.0,1864.6 L1678.5,1855.9 L1680.1,1846.6 L1687.3,1839.3 L1687.9,1829.6 L1691.0,1820.4 L1688.9,1810.5 L1690.3,1801.1 L1690.8,1791.6 L1697.4,1782.9 L1694.2,1772.8 L1696.8,1763.6 L1695.2,1752.4 L1692.1,1741.6 L1690.8,1730.4 L1687.7,1719.6 L1685.7,1709.8 L1683.9,1700.0 L1677.4,1691.5 L1678.8,1680.8 L1674.5,1671.6 L1665.9,1664.8 L1659.1,1656.0 L1650.5,1649.2 L1643.5,1640.7 L1641.5,1631.3 L1642.3,1621.7 L1641.2,1612.2 L1639.8,1602.8 L1641.6,1593.1 L1639.3,1583.7 L1643.2,1575.1 L1643.3,1565.0 L1648.0,1556.7 L1652.5,1548.4 L1656.2,1539.7 L1657.5,1529.3 L1655.9,1519.4 L1652.1,1509.7 L1644.7,1504.5 L1635.2,1502.3 L1630.3,1493.3 L1621.5,1490.2 L1614.5,1484.4 L1607.3,1478.7 L1599.0,1474.8 L1590.9,1468.7 L1581.7,1464.2 L1574.6,1456.5 L1564.2,1453.9 L1555.9,1447.9 L1548.8,1442.0 L1544.2,1433.4 L1534.7,1429.9 L1528.5,1422.9 L1524.2,1414.0 L1514.2,1411.0 L1511.0,1401.0 L1502.8,1396.1 L1494.5,1388.6 L1484.8,1383.1 L1485.3,1372.5 L1485.4,1361.8 L1489.5,1351.5 L1491.3,1341.0 L1489.6,1330.1 L1495.8,1322.8 L1504.5,1319.0 L1512.3,1313.8 L1519.6,1308.0 L1526.9,1299.3 L1533.4,1290.0 L1541.5,1282.0 L1543.8,1272.0 L1550.6,1264.2 L1554.4,1254.9 L1558.2,1244.9 L1555.3,1233.7 L1558.1,1223.4 L1563.5,1213.7 L1563.3,1202.9 L1563.1,1191.6 L1560.3,1180.7 L1554.2,1170.5 L1555.2,1158.9 L1545.7,1162.9 L1536.1,1166.8 L1527.2,1171.9 L1519.4,1178.7 L1511.3,1185.1 L1499.8,1188.6 L1487.8,1184.3 L1476.3,1187.1 L1474.4,1177.7 L1476.2,1168.1 L1473.5,1159.0 L1471.6,1149.5 L1466.6,1141.3 L1459.6,1133.9 L1458.1,1124.2 L1448.8,1121.7 L1441.6,1114.3 L1430.9,1115.1 L1423.1,1109.3 L1414.1,1113.7 L1406.0,1119.8 L1397.1,1124.4 L1386.5,1126.6 L1375.9,1123.6 L1365.3,1127.4 L1354.7,1127.0 L1344.1,1124.5 L1333.9,1126.6 L1323.8,1129.9 L1313.1,1128.6 L1308.9,1139.2 L1300.2,1146.6 L1294.0,1154.3 L1287.3,1161.7 L1280.8,1169.2 L1278.8,1180.0 L1271.4,1186.9 L1265.3,1194.7 L1252.3,1195.9 L1239.3,1194.8 L1230.1,1197.2 L1221.3,1200.9 L1212.3,1203.8 L1201.9,1203.4 L1193.0,1209.2 L1183.7,1213.4 L1173.3,1212.9 L1164.7,1216.9 L1158.5,1224.9 L1148.9,1227.3 L1141.4,1233.0 L1132.0,1235.8 L1125.4,1243.1 L1116.7,1240.5 L1108.0,1238.0 L1098.6,1238.0 L1090.3,1234.0 L1081.0,1233.7 L1073.0,1228.4 L1063.8,1227.7 L1054.4,1227.9 L1045.8,1225.1 L1037.4,1221.3 L1026.2,1219.5 L1015.7,1214.5 L1004.3,1213.4 L993.1,1210.6 L984.2,1202.9 L973.3,1199.5 L962.5,1196.5 L950.8,1198.1 L940.5,1192.5 L929.3,1191.6 L919.8,1187.5 L912.2,1181.1 L906.2,1172.6 L897.0,1168.2 L890.2,1160.7 L880.4,1161.4 L872.2,1166.8 L863.2,1169.8 L854.1,1167.2 L846.6,1160.7 Z"/></clipPath><filter id="relief" x="300" y="1080" width="1450" height="1280" filterUnits="userSpaceOnUse" color-interpolation-filters="sRGB"><feTurbulence type="fractalNoise" baseFrequency="0.011 0.005" numOctaves="3" seed="11" result="n"/><feDiffuseLighting in="n" surfaceScale="6" diffuseConstant="1.0" lighting-color="#ffffff" result="l"><feDistantLight azimuth="225" elevation="50"/></feDiffuseLighting><feComposite in="SourceGraphic" in2="l" operator="arithmetic" k1="1.3" k2="0" k3="0" k4="0.0" result="c"/><feComposite in="c" in2="SourceGraphic" operator="in"/></filter><filter id="harzf" x="300" y="1700" width="700" height="700" filterUnits="userSpaceOnUse" color-interpolation-filters="sRGB"><feTurbulence type="turbulence" baseFrequency="0.03 0.045" numOctaves="2" seed="3" result="t"/><feColorMatrix in="t" type="matrix" values="0 0 0 0 0.08  0 0 0 0 0.12  0 0 0 0 0.07  2.6 0 0 0 -0.3" result="tm"/><feComposite in="tm" in2="SourceGraphic" operator="in"/></filter><filter id="blur8" x="-20%" y="-20%" width="140%" height="140%"><feGaussianBlur stdDeviation="10"/></filter><filter id="blur30" x="-30%" y="-30%" width="160%" height="160%"><feGaussianBlur stdDeviation="28"/></filter></defs>
<path d="M837.2,1158.8 L828.6,1161.8 L820.0,1164.9 L811.5,1168.3 L802.9,1171.1 L795.1,1176.0 L786.3,1178.7 L780.4,1187.6 L771.0,1188.8 L761.4,1189.7 L754.3,1196.0 L744.5,1198.9 L734.5,1201.1 L726.9,1209.6 L716.7,1211.2 L707.8,1216.2 L697.7,1218.2 L688.4,1222.2 L683.4,1236.2 L689.0,1243.5 L697.8,1248.2 L701.4,1257.2 L708.4,1263.9 L713.6,1271.8 L715.8,1281.9 L723.5,1288.1 L719.9,1296.8 L719.6,1306.1 L712.6,1312.5 L702.7,1313.3 L696.7,1321.4 L687.3,1323.2 L679.6,1328.2 L675.1,1338.2 L666.7,1345.3 L663.9,1355.7 L653.7,1361.5 L651.8,1372.5 L644.8,1380.3 L636.7,1385.6 L626.0,1384.7 L617.5,1389.0 L610.1,1396.1 L600.8,1398.4 L592.0,1393.0 L581.7,1393.0 L572.3,1389.6 L561.9,1390.0 L552.8,1385.6 L543.1,1381.5 L532.9,1381.9 L523.1,1378.9 L512.8,1380.7 L503.0,1382.9 L496.2,1390.7 L487.4,1394.7 L479.4,1400.3 L469.8,1402.8 L461.6,1408.2 L452.8,1411.9 L443.3,1413.8 L433.9,1415.9 L432.2,1424.8 L431.9,1433.9 L439.8,1439.3 L441.7,1449.2 L448.0,1455.8 L452.4,1464.3 L455.9,1473.0 L456.3,1483.0 L461.8,1491.0 L465.1,1499.8 L475.9,1503.0 L485.8,1508.3 L496.1,1512.7 L493.5,1522.5 L496.3,1533.1 L492.2,1542.7 L487.0,1553.1 L490.7,1565.3 L484.0,1575.4 L483.3,1586.7 L488.1,1596.8 L498.8,1602.4 L501.4,1614.0 L509.4,1621.7 L520.9,1627.9 L531.4,1635.6 L528.0,1644.1 L528.5,1654.0 L522.5,1661.6 L526.3,1671.6 L526.3,1681.8 L522.2,1692.4 L527.9,1702.1 L525.2,1712.6 L527.7,1722.6 L518.8,1727.1 L513.7,1735.7 L510.9,1748.7 L513.8,1761.7 L507.4,1768.4 L500.4,1774.4 L492.8,1779.7 L484.0,1781.6 L474.8,1782.1 L466.9,1788.2 L457.2,1786.3 L448.3,1788.0 L439.4,1789.6 L431.8,1796.8 L421.7,1793.1 L414.1,1800.5 L404.9,1800.9 L395.9,1802.0 L386.7,1807.9 L376.8,1812.9 L370.3,1822.4 L360.9,1828.1 L364.3,1838.5 L372.1,1846.2 L378.0,1855.0 L376.3,1864.1 L373.5,1872.7 L371.5,1881.7 L369.3,1890.6 L366.1,1899.1 L361.1,1907.1 L361.3,1918.9 L360.7,1930.8 L365.2,1942.1 L371.6,1949.9 L376.7,1958.3 L375.7,1969.8 L382.7,1977.3 L387.4,1986.0 L397.6,1989.9 L408.1,1993.4 L417.1,2000.0 L427.4,2003.9 L435.2,2010.9 L445.2,2014.0 L454.1,2019.0 L464.1,2022.2 L471.5,2029.8 L471.1,2039.2 L478.7,2046.7 L478.1,2056.3 L478.1,2065.6 L484.7,2073.3 L484.6,2082.7 L489.1,2092.2 L493.6,2101.6 L501.7,2108.7 L511.2,2109.5 L520.7,2110.5 L530.2,2106.1 L539.7,2108.2 L549.2,2106.3 L558.7,2108.6 L567.0,2112.7 L576.5,2111.2 L585.1,2114.2 L593.1,2119.6 L602.1,2120.6 L610.7,2123.4 L620.2,2122.1 L629.0,2124.3 L637.7,2126.3 L640.9,2135.8 L646.9,2143.8 L652.5,2151.9 L655.8,2161.3 L648.9,2168.9 L642.8,2177.3 L634.4,2183.4 L624.4,2187.8 L617.2,2195.1 L611.9,2204.4 L618.4,2212.2 L626.0,2218.8 L633.7,2225.2 L641.9,2231.3 L647.0,2240.3 L656.3,2242.3 L664.0,2248.6 L672.5,2252.5 L682.5,2252.7 L690.3,2258.6 L699.1,2261.8 L708.1,2264.7 L716.9,2267.8 L726.1,2270.1 L733.7,2278.7 L744.0,2284.1 L752.2,2292.0 L760.7,2295.5 L770.2,2295.0 L778.7,2298.4 L787.1,2302.3 L796.1,2304.0 L805.2,2304.9 L810.7,2313.3 L811.3,2324.1 L818.3,2331.9 L827.5,2332.3 L836.7,2331.3 L845.7,2327.2 L855.1,2330.1 L864.2,2327.7 L873.5,2329.8 L882.6,2328.0 L892.0,2329.7 L901.1,2328.1 L910.2,2326.6 L912.1,2317.0 L909.2,2307.4 L911.1,2297.8 L911.7,2288.2 L910.1,2278.6 L905.3,2268.4 L897.1,2260.7 L893.1,2251.5 L893.1,2241.0 L890.3,2231.5 L886.1,2222.3 L884.9,2212.3 L878.9,2203.7 L880.8,2192.7 L877.0,2182.2 L876.0,2171.5 L874.8,2160.7 L874.9,2149.3 L881.4,2139.1 L884.2,2128.3 L883.7,2116.7 L884.5,2105.7 L886.9,2094.8 L888.0,2083.8 L887.6,2072.7 L894.3,2065.8 L896.8,2056.0 L905.5,2050.4 L909.5,2041.6 L918.5,2039.0 L927.4,2036.4 L935.7,2031.8 L944.9,2029.9 L954.0,2027.7 L962.5,2023.7 L971.5,2021.1 L978.8,2013.8 L987.9,2011.5 L997.4,2010.4 L1007.8,2008.0 L1018.6,2007.3 L1028.6,2002.6 L1039.4,2002.3 L1048.5,2000.8 L1057.2,1997.9 L1064.9,1991.6 L1074.5,1991.6 L1083.4,1989.2 L1094.5,1988.4 L1105.6,1988.3 L1116.6,1989.8 L1127.4,1993.1 L1136.4,1994.2 L1145.4,1995.5 L1154.1,1997.8 L1162.4,2002.0 L1174.2,2005.0 L1183.2,2013.1 L1193.4,2018.9 L1197.7,2027.4 L1199.8,2036.8 L1203.5,2045.6 L1209.1,2053.6 L1208.7,2064.0 L1214.6,2071.8 L1219.5,2080.8 L1218.8,2090.9 L1221.4,2100.4 L1222.4,2110.1 L1223.7,2119.8 L1231.4,2113.3 L1242.1,2113.2 L1249.6,2106.3 L1258.7,2102.7 L1269.9,2100.7 L1280.6,2105.4 L1291.9,2103.1 L1302.7,2106.6 L1311.4,2109.1 L1320.5,2110.0 L1329.0,2113.6 L1337.2,2118.2 L1346.2,2119.5 L1355.6,2119.2 L1363.8,2123.8 L1372.9,2124.9 L1382.1,2125.4 L1390.7,2128.4 L1399.5,2124.1 L1409.3,2124.9 L1418.5,2122.7 L1428.2,2123.1 L1437.5,2121.2 L1446.2,2116.9 L1455.0,2113.3 L1465.0,2114.6 L1473.7,2110.2 L1475.1,2100.1 L1480.1,2091.7 L1486.6,2084.1 L1491.5,2076.3 L1496.2,2068.5 L1498.0,2059.0 L1505.3,2052.5 L1511.2,2045.3 L1513.5,2036.1 L1523.9,2035.2 L1534.3,2035.6 L1544.7,2034.2 L1555.1,2034.6 L1565.5,2035.9 L1575.1,2036.2 L1582.9,2029.9 L1592.7,2030.9 L1601.4,2028.0 L1609.5,2022.8 L1621.2,2021.7 L1632.6,2017.9 L1644.4,2017.7 L1655.6,2017.6 L1665.1,2011.6 L1675.4,2008.6 L1685.7,2006.7 L1695.9,2004.8 L1706.4,2004.5 L1710.4,1991.5 L1710.1,1981.8 L1704.0,1974.1 L1699.6,1965.9 L1697.6,1956.8 L1692.3,1948.8 L1692.1,1939.0 L1688.2,1930.6 L1681.4,1921.8 L1674.1,1913.4 L1670.1,1902.6 L1662.1,1894.7 L1668.3,1885.5 L1667.9,1873.4 L1675.0,1864.6 L1678.5,1855.9 L1680.1,1846.6 L1687.3,1839.3 L1687.9,1829.6 L1691.0,1820.4 L1688.9,1810.5 L1690.3,1801.1 L1690.8,1791.6 L1697.4,1782.9 L1694.2,1772.8 L1696.8,1763.6 L1695.2,1752.4 L1692.1,1741.6 L1690.8,1730.4 L1687.7,1719.6 L1685.7,1709.8 L1683.9,1700.0 L1677.4,1691.5 L1678.8,1680.8 L1674.5,1671.6 L1665.9,1664.8 L1659.1,1656.0 L1650.5,1649.2 L1643.5,1640.7 L1641.5,1631.3 L1642.3,1621.7 L1641.2,1612.2 L1639.8,1602.8 L1641.6,1593.1 L1639.3,1583.7 L1643.2,1575.1 L1643.3,1565.0 L1648.0,1556.7 L1652.5,1548.4 L1656.2,1539.7 L1657.5,1529.3 L1655.9,1519.4 L1652.1,1509.7 L1644.7,1504.5 L1635.2,1502.3 L1630.3,1493.3 L1621.5,1490.2 L1614.5,1484.4 L1607.3,1478.7 L1599.0,1474.8 L1590.9,1468.7 L1581.7,1464.2 L1574.6,1456.5 L1564.2,1453.9 L1555.9,1447.9 L1548.8,1442.0 L1544.2,1433.4 L1534.7,1429.9 L1528.5,1422.9 L1524.2,1414.0 L1514.2,1411.0 L1511.0,1401.0 L1502.8,1396.1 L1494.5,1388.6 L1484.8,1383.1 L1485.3,1372.5 L1485.4,1361.8 L1489.5,1351.5 L1491.3,1341.0 L1489.6,1330.1 L1495.8,1322.8 L1504.5,1319.0 L1512.3,1313.8 L1519.6,1308.0 L1526.9,1299.3 L1533.4,1290.0 L1541.5,1282.0 L1543.8,1272.0 L1550.6,1264.2 L1554.4,1254.9 L1558.2,1244.9 L1555.3,1233.7 L1558.1,1223.4 L1563.5,1213.7 L1563.3,1202.9 L1563.1,1191.6 L1560.3,1180.7 L1554.2,1170.5 L1555.2,1158.9 L1545.7,1162.9 L1536.1,1166.8 L1527.2,1171.9 L1519.4,1178.7 L1511.3,1185.1 L1499.8,1188.6 L1487.8,1184.3 L1476.3,1187.1 L1474.4,1177.7 L1476.2,1168.1 L1473.5,1159.0 L1471.6,1149.5 L1466.6,1141.3 L1459.6,1133.9 L1458.1,1124.2 L1448.8,1121.7 L1441.6,1114.3 L1430.9,1115.1 L1423.1,1109.3 L1414.1,1113.7 L1406.0,1119.8 L1397.1,1124.4 L1386.5,1126.6 L1375.9,1123.6 L1365.3,1127.4 L1354.7,1127.0 L1344.1,1124.5 L1333.9,1126.6 L1323.8,1129.9 L1313.1,1128.6 L1308.9,1139.2 L1300.2,1146.6 L1294.0,1154.3 L1287.3,1161.7 L1280.8,1169.2 L1278.8,1180.0 L1271.4,1186.9 L1265.3,1194.7 L1252.3,1195.9 L1239.3,1194.8 L1230.1,1197.2 L1221.3,1200.9 L1212.3,1203.8 L1201.9,1203.4 L1193.0,1209.2 L1183.7,1213.4 L1173.3,1212.9 L1164.7,1216.9 L1158.5,1224.9 L1148.9,1227.3 L1141.4,1233.0 L1132.0,1235.8 L1125.4,1243.1 L1116.7,1240.5 L1108.0,1238.0 L1098.6,1238.0 L1090.3,1234.0 L1081.0,1233.7 L1073.0,1228.4 L1063.8,1227.7 L1054.4,1227.9 L1045.8,1225.1 L1037.4,1221.3 L1026.2,1219.5 L1015.7,1214.5 L1004.3,1213.4 L993.1,1210.6 L984.2,1202.9 L973.3,1199.5 L962.5,1196.5 L950.8,1198.1 L940.5,1192.5 L929.3,1191.6 L919.8,1187.5 L912.2,1181.1 L906.2,1172.6 L897.0,1168.2 L890.2,1160.7 L880.4,1161.4 L872.2,1166.8 L863.2,1169.8 L854.1,1167.2 L846.6,1160.7 Z" fill="#74a457" filter="url(#relief)"/>
<g clip-path="url(#mapclip)">
<mask id="harzm"><path d="M338.9,1823.1 L353.3,1818.9 L373.3,1812.3 L397.0,1804.9 L422.2,1798.1 L446.8,1793.6 L468.8,1792.8 L488.7,1796.0 L508.1,1801.9 L527.0,1810.1 L545.2,1820.0 L562.6,1831.0 L579.0,1842.5 L594.1,1855.1 L607.9,1869.5 L621.0,1884.9 L633.6,1900.9 L646.2,1916.9 L659.2,1932.3 L672.4,1947.5 L685.2,1963.0 L698.1,1978.4 L711.2,1993.6 L724.9,2008.3 L739.4,2022.1 L755.2,2034.6 L772.1,2046.1 L789.5,2056.9 L807.0,2067.8 L823.9,2079.3 L839.6,2091.8 L854.8,2104.8 L870.1,2117.7 L884.7,2131.1 L898.3,2145.7 L910.2,2162.4 L919.9,2181.6 L928.8,2205.9 L937.8,2235.3 L945.1,2266.5 L949.1,2296.7 L948.0,2322.7 L940.3,2341.6 L924.1,2353.3 L900.3,2360.5 L871.6,2363.6 L840.3,2362.9 L809.1,2358.9 L780.3,2352.0 L752.9,2340.8 L724.7,2324.7 L696.4,2305.3 L669.0,2284.1 L643.3,2262.6 L620.0,2242.4 L599.8,2222.3 L582.1,2201.0 L566.1,2179.4 L550.9,2158.5 L535.7,2139.3 L519.7,2122.7 L502.8,2109.3 L485.6,2098.7 L468.4,2089.7 L451.5,2081.4 L435.1,2072.8 L419.6,2062.9 L404.1,2051.1 L388.4,2037.8 L373.2,2024.3 L359.4,2011.6 L347.9,2000.8 L339.4,1993.1 Z" fill="#fff" filter="url(#blur30)"/></mask>
<rect x="300" y="1750" width="700" height="650" fill="#111" mask="url(#harzm)" filter="url(#harzf)" opacity="0.6"/>
<path d="M361.0,1848.1 L369.6,1844.0 L381.5,1837.8 L395.6,1830.8 L410.6,1824.2 L425.5,1819.5 L438.9,1817.9 L451.3,1819.4 L463.6,1823.0 L475.7,1828.4 L487.4,1835.3 L498.6,1843.5 L509.0,1852.7 L518.9,1863.4 L528.5,1876.0 L537.5,1889.8 L545.8,1904.3 L553.1,1918.7 L559.2,1932.6 L564.5,1946.2 L569.1,1960.1 L572.8,1974.1 L575.1,1987.7 L575.8,2000.6 L574.4,2012.5 L570.6,2023.7 L564.5,2034.4 L556.7,2044.4 L547.9,2053.5 L538.6,2061.3 L529.6,2067.6 L520.6,2072.8 L511.1,2077.1 L501.2,2080.2 L490.9,2081.6 L480.4,2081.0 L469.6,2077.8 L457.7,2070.6 L444.4,2059.3 L430.8,2046.0 L418.0,2032.6 L407.2,2020.9 L399.4,2013.0 Z" fill="#141c12" opacity="0.55" filter="url(#blur8)"/>
</g>
<path d="M1555.2,1158.9 L1563.3,1202.9 L1554.4,1254.9 L1541.5,1282.0 L1519.6,1308.0 L1489.6,1330.1 L1484.8,1383.1 L1502.8,1396.1 L1555.9,1447.9 L1599.0,1474.8 L1652.1,1509.7 L1656.2,1539.7 L1639.3,1583.7 L1643.5,1640.7 L1674.5,1671.6 L1687.7,1719.6 L1696.8,1763.6 L1687.9,1829.6 L1675.0,1864.6 L1662.1,1894.7 L1688.2,1930.6 L1710.4,1991.5" fill="none" stroke="#7fb0d6" stroke-width="5" opacity="0.85"/>
<path d="M705.6,1301.2 L708.3,1304.5 L712.0,1309.0 L716.3,1314.4 L721.4,1320.3 L726.8,1326.4 L732.6,1332.1 L739.1,1337.9 L746.3,1344.1 L753.9,1350.4 L761.8,1356.5 L769.5,1362.1 L776.7,1367.0 L783.9,1370.8 L791.2,1373.8 L798.4,1376.2 L805.2,1378.6 L811.1,1381.4 L815.8,1384.9 L819.1,1388.8 L821.2,1392.8 L822.5,1397.1 L823.3,1402.0 L824.0,1407.9 L824.9,1414.9 L826.0,1422.9 L827.1,1431.7 L828.1,1441.4 L828.8,1452.1 L829.1,1463.9 L829.0,1476.8 L828.5,1492.1 L827.6,1509.9 L826.3,1528.8 L824.6,1547.3 L822.7,1564.2 L820.3,1577.9 L817.6,1588.1 L814.6,1595.8 L811.2,1601.8 L807.4,1606.8 L803.2,1611.6 L798.4,1616.9 L792.7,1622.5 L786.2,1627.6 L779.2,1632.5 L772.1,1637.4 L765.4,1642.5 L759.5,1648.0 L754.2,1654.1 L749.2,1660.6 L744.6,1667.3 L740.5,1674.1 L736.8,1680.7 L733.6,1687.1 L731.1,1693.1 L729.5,1699.0 L728.2,1704.7 L727.2,1710.4 L726.1,1716.2 L724.7,1722.1 L722.3,1728.2 L719.1,1734.5 L715.9,1740.8 L713.3,1747.0 L712.0,1753.2 L712.8,1759.1 L716.0,1764.9 L721.2,1770.5 L727.7,1776.0 L735.0,1781.4 L742.2,1786.7 L748.8,1792.1 L755.0,1797.2 L761.2,1802.1 L767.4,1807.0 L773.7,1812.0 L779.8,1817.3 L785.9,1823.0 L791.8,1829.5 L797.4,1836.8 L803.0,1844.3 L808.7,1851.7 L814.7,1858.4 L821.0,1863.9 L827.9,1868.2 L835.1,1871.8 L842.5,1874.6 L850.1,1876.9 L857.6,1878.5 L865.1,1879.8 L872.2,1880.1 L878.9,1879.4 L885.7,1878.2 L892.8,1876.9 L900.5,1875.9 L909.1,1875.6 L918.8,1876.2 L929.5,1877.4 L940.8,1878.8 L952.4,1880.4 L963.9,1882.0 L975.1,1883.5 L986.1,1884.3 L997.3,1884.7 L1008.5,1885.1 L1019.3,1885.9 L1029.6,1887.8 L1039.1,1891.3 L1047.9,1896.7 L1056.3,1903.7 L1064.1,1911.8 L1071.3,1920.3 L1077.7,1928.6 L1083.2,1936.2 L1087.5,1943.2 L1090.5,1950.2 L1092.7,1957.0 L1094.7,1963.6 L1097.1,1969.6 L1100.3,1975.1 L1104.8,1980.1 L1110.2,1984.8 L1115.9,1989.0 L1121.4,1992.7 L1126.1,1995.7 L1129.4,1998.1" fill="none" stroke="#8cbcd8" stroke-width="5"/>
<path d="M483.3,1591.7 L484.9,1592.6 L487.0,1593.5 L489.6,1594.7 L492.4,1596.5 L495.4,1599.1 L498.3,1602.7 L501.6,1608.2 L505.4,1615.4 L509.3,1623.4 L513.1,1631.2 L516.2,1638.0 L518.5,1642.7" fill="none" stroke="#8cbcd8" stroke-width="4"/>
<path d="M890.9,1419.7 L899.1,1502.7 L873.1,1520.7 L917.3,1599.6 L899.7,1730.7 L952.9,1800.5 L999.0,1834.4 L1043.9,1824.3 L1129.0,1859.1 L1194.1,1890.9 L1212.3,1950.8 L1194.4,1988.9 L1172.4,2002.9" fill="none" stroke="#eceee6" stroke-width="4.5"/>
<path d="M1182.9,1528.3 L1189.1,1519.5 L1222.1,1492.8 L1235.1,1488.8 L1244.1,1501.8 L1266.1,1510.7 L1283.7,1492.7 L1301.1,1497.6 L1305.6,1519.2 L1318.9,1545.6 L1345.2,1554.2 L1340.9,1580.5 L1371.3,1597.9 L1376.1,1633.0 L1323.4,1628.5 L1284.0,1624.6 L1266.4,1628.7 L1227.0,1611.5 L1205.1,1615.9 L1169.9,1594.0 L1182.9,1563.4 L1187.2,1545.9 Z" fill="none" stroke="#e8ebe2" stroke-width="4"/>
<path d="M1196.2,1532.9 L1200.9,1530.6 L1207.8,1527.3 L1215.3,1523.4 L1222.1,1519.4 L1227.9,1514.6 L1233.4,1508.9 L1238.7,1504.1 L1244.1,1501.8 L1249.5,1503.0 L1254.9,1506.8 L1260.3,1511.3 L1266.1,1514.7 L1272.3,1515.7 L1278.8,1515.6 L1285.5,1516.2 L1292.1,1519.2 L1299.6,1526.4 L1307.7,1536.2 L1314.7,1546.3 L1318.9,1554.3 L1318.4,1558.9 L1314.6,1561.7 L1310.8,1564.2 L1310.3,1567.6 L1315.0,1572.6 L1323.0,1578.3 L1331.1,1584.2 L1336.3,1589.5 L1338.3,1594.5 L1338.5,1599.4 L1336.6,1603.6 L1332.4,1606.5 L1324.6,1607.8 L1313.7,1607.9 L1302.2,1607.3 L1292.4,1606.6 L1285.1,1605.6 L1279.0,1604.1 L1273.2,1602.9 L1266.4,1602.7 L1258.0,1604.3 L1248.9,1607.1 L1239.7,1609.9 L1231.4,1611.5 L1223.8,1611.7 L1216.6,1611.1 L1210.2,1609.6 L1205.1,1606.9 L1201.2,1602.6 L1198.5,1596.9 L1196.9,1590.8 L1196.3,1584.9 L1197.7,1579.4 L1200.8,1573.8 L1203.8,1568.4 L1204.9,1563.4 L1203.3,1558.6 L1199.8,1554.1 L1196.2,1549.8 L1193.9,1545.9 L1193.6,1542.0 L1194.3,1538.3 L1195.4,1535.1 L1196.2,1532.9 Z" fill="#e0114d"/>
<ellipse cx="714.7" cy="1744.1" rx="13" ry="22" fill="#d61a50"/>
<ellipse cx="1401.3" cy="1186.3" rx="5" ry="14" fill="#3fb0d4"/>
<ellipse cx="1387.6" cy="1330.4" rx="8" ry="5" fill="#3fb0d4"/>
<ellipse cx="1443.7" cy="1345.2" rx="6" ry="10" fill="#3fb0d4"/>
<ellipse cx="1362.7" cy="1355.4" rx="8" ry="4" fill="#3fb0d4"/>
<ellipse cx="1128.4" cy="1611.1" rx="6" ry="12" fill="#3fb0d4"/>
<ellipse cx="1108.5" cy="1656.1" rx="8" ry="5" fill="#3fb0d4"/>
<ellipse cx="1340.4" cy="1610.5" rx="10" ry="6" fill="#3fb0d4"/>
<ellipse cx="1513.5" cy="1660.1" rx="5" ry="14" fill="#3fb0d4"/>
<ellipse cx="1538.9" cy="1800.0" rx="5" ry="10" fill="#3fb0d4"/>
<circle cx="1454.3" cy="1315.7" r="16.5" fill="#1c2877"/>
<circle cx="1105.7" cy="1347.8" r="16.5" fill="#1c2877"/>
<circle cx="737.7" cy="1366.1" r="16.5" fill="#1c2877"/>
<circle cx="640.0" cy="1550.7" r="16.5" fill="#1c2877"/>
<circle cx="1259.8" cy="1582.7" r="16.5" fill="#1c2877"/>
<circle cx="1297.2" cy="1611.3" r="16.5" fill="#1c2877"/>
<circle cx="1187.4" cy="1620.4" r="16.5" fill="#1c2877"/>
<circle cx="1507.6" cy="1711.7" r="16.5" fill="#1c2877"/>
<circle cx="711.6" cy="1759.5" r="16.5" fill="#1c2877"/>
<circle cx="416.0" cy="1909.3" r="16.5" fill="#1c2877"/>
<circle cx="1043.1" cy="1879.3" r="16.5" fill="#1c2877"/>
<circle cx="1622.2" cy="1908.4" r="16.5" fill="#1c2877"/>
<circle cx="490.6" cy="1973.6" r="16.5" fill="#1c2877"/>
<circle cx="820.1" cy="2287.7" r="16.5" fill="#1c2877"/>
<text x="1219.5" y="1276.8" font-size="58.5" fill="#e4df48" stroke="#e4df48" stroke-width="0.6" textLength="331.7" lengthAdjust="spacingAndGlyphs">Angermünde</text>
<text x="988.9" y="1414.9" font-size="58.5" fill="#e4df48" stroke="#e4df48" stroke-width="0.6" textLength="269.7" lengthAdjust="spacingAndGlyphs">Neuruppin</text>
<text x="637.9" y="1416.3" font-size="58.5" fill="#e4df48" stroke="#e4df48" stroke-width="0.6" textLength="295.8" lengthAdjust="spacingAndGlyphs">Seehausen</text>
<text x="530.5" y="1612.1" font-size="58.5" fill="#e4df48" stroke="#e4df48" stroke-width="0.6" textLength="307.4" lengthAdjust="spacingAndGlyphs">Gardelegen</text>
<text x="1226.6" y="1555.5" font-size="58.5" fill="#e4df48" stroke="#e4df48" stroke-width="0.6" textLength="414.5" lengthAdjust="spacingAndGlyphs">Bln. - Tempelhof</text>
<text x="937.9" y="1643.6" font-size="58.5" fill="#e4df48" stroke="#e4df48" stroke-width="0.6" textLength="226.9" lengthAdjust="spacingAndGlyphs">Potsdam</text>
<text x="1211.6" y="1669.5" font-size="58.5" fill="#e4df48" stroke="#e4df48" stroke-width="0.6" textLength="424.5" lengthAdjust="spacingAndGlyphs">Bln. - Schönefeld</text>
<text x="1356.2" y="1776.3" font-size="58.5" fill="#e4df48" stroke="#e4df48" stroke-width="0.6" textLength="289.4" lengthAdjust="spacingAndGlyphs">Lindenberg</text>
<text x="650.1" y="1817.3" font-size="58.5" fill="#e4df48" stroke="#e4df48" stroke-width="0.6" textLength="291.2" lengthAdjust="spacingAndGlyphs">Magdeburg</text>
<text x="454.8" y="1905.8" font-size="58.5" fill="#e4df48" stroke="#e4df48" stroke-width="0.6" textLength="336.7" lengthAdjust="spacingAndGlyphs">Wernigerode</text>
<text x="906.9" y="1933.1" font-size="58.5" fill="#e4df48" stroke="#e4df48" stroke-width="0.6" textLength="280.8" lengthAdjust="spacingAndGlyphs">Wittenberg</text>
<text x="1437.4" y="1969.1" font-size="58.5" fill="#e4df48" stroke="#e4df48" stroke-width="0.6" textLength="200.5" lengthAdjust="spacingAndGlyphs">Cottbus</text>
<text x="514.6" y="2030.7" font-size="58.5" fill="#e4df48" stroke="#e4df48" stroke-width="0.6" textLength="305.5" lengthAdjust="spacingAndGlyphs">Harzgerode</text>
<text x="644.4" y="2258.3" font-size="58.5" fill="#e4df48" stroke="#e4df48" stroke-width="0.6" textLength="241.4" lengthAdjust="spacingAndGlyphs">Osterfeld</text>
<g transform="translate(1958.8,1623.9)">
<text x="115.3" y="183.1" font-size="61" font-weight="bold" fill="#262223" stroke="#262223" stroke-width="0.6" textLength="512.7" lengthAdjust="spacingAndGlyphs">Berlin-Tempelhof</text>
<text x="14.6" y="80.7" font-size="45" font-weight="bold" fill="#262223" stroke="#262223" stroke-width="0.5">Mo.</text>
<text x="131.1" y="80.7" font-size="45" font-weight="bold" fill="#262223" stroke="#262223" stroke-width="0.5">Di.</text>
<text x="235.1" y="80.7" font-size="45" font-weight="bold" fill="#262223" stroke="#262223" stroke-width="0.5">Mi.</text>
<text x="336.6" y="80.7" font-size="45" font-weight="bold" fill="#262223" stroke="#262223" stroke-width="0.5">Do.</text>
<text x="451.9" y="80.7" font-size="45" font-weight="bold" fill="#262223" stroke="#262223" stroke-width="0.5">Fr.</text>
<text x="552.9" y="80.7" font-size="45" font-weight="bold" fill="#262223" stroke="#262223" stroke-width="0.5">Sa.</text>
<text x="658.1" y="80.7" font-size="45" font-weight="bold" fill="#262223" stroke="#262223" stroke-width="0.5">So.</text>
<rect x="669.3" y="-396.0" width="42.6" height="396.0" fill="#2d5cb2" stroke="#20232c" stroke-width="5"/>
<line x1="16.0" y1="-423.7" x2="729.6" y2="-423.7" stroke="#262223" stroke-width="4.2"/>
<line x1="0" y1="0" x2="745.6" y2="0" stroke="#262223" stroke-width="4.6"/>
<line x1="0.0" y1="0" x2="0.0" y2="15.5" stroke="#262223" stroke-width="4.4"/>
<line x1="106.5" y1="0" x2="106.5" y2="15.5" stroke="#262223" stroke-width="4.4"/>
<line x1="213.0" y1="0" x2="213.0" y2="15.5" stroke="#262223" stroke-width="4.4"/>
<line x1="319.5" y1="0" x2="319.5" y2="15.5" stroke="#262223" stroke-width="4.4"/>
<line x1="426.1" y1="0" x2="426.1" y2="15.5" stroke="#262223" stroke-width="4.4"/>
<line x1="532.6" y1="0" x2="532.6" y2="15.5" stroke="#262223" stroke-width="4.4"/>
<line x1="639.1" y1="0" x2="639.1" y2="15.5" stroke="#262223" stroke-width="4.4"/>
<line x1="745.6" y1="0" x2="745.6" y2="15.5" stroke="#262223" stroke-width="4.4"/>
<line x1="0" y1="-423.7" x2="0" y2="0" stroke="#3d61ad" stroke-width="3.8"/>
<line x1="-16" y1="0.0" x2="0" y2="0.0" stroke="#3d61ad" stroke-width="3.8"/>
<text x="-95.3" y="12.3" font-size="44.5" font-weight="bold" fill="#3a5ca6" stroke="#3a5ca6" stroke-width="0.5">0,0</text>
<line x1="-16" y1="-60.5" x2="16" y2="-60.5" stroke="#3d61ad" stroke-width="3.8"/>
<text x="-95.3" y="-48.2" font-size="44.5" font-weight="bold" fill="#3a5ca6" stroke="#3a5ca6" stroke-width="0.5">2,0</text>
<line x1="-16" y1="-121.1" x2="16" y2="-121.1" stroke="#3d61ad" stroke-width="3.8"/>
<text x="-95.3" y="-108.8" font-size="44.5" font-weight="bold" fill="#3a5ca6" stroke="#3a5ca6" stroke-width="0.5">4,0</text>
<line x1="-16" y1="-181.6" x2="16" y2="-181.6" stroke="#3d61ad" stroke-width="3.8"/>
<text x="-95.3" y="-169.3" font-size="44.5" font-weight="bold" fill="#3a5ca6" stroke="#3a5ca6" stroke-width="0.5">6,0</text>
<line x1="-16" y1="-242.1" x2="16" y2="-242.1" stroke="#3d61ad" stroke-width="3.8"/>
<text x="-95.3" y="-229.8" font-size="44.5" font-weight="bold" fill="#3a5ca6" stroke="#3a5ca6" stroke-width="0.5">8,0</text>
<line x1="-16" y1="-302.6" x2="16" y2="-302.6" stroke="#3d61ad" stroke-width="3.8"/>
<text x="-120.0" y="-290.3" font-size="44.5" font-weight="bold" fill="#3a5ca6" stroke="#3a5ca6" stroke-width="0.5">10,0</text>
<line x1="-16" y1="-363.2" x2="16" y2="-363.2" stroke="#3d61ad" stroke-width="3.8"/>
<text x="-120.0" y="-350.9" font-size="44.5" font-weight="bold" fill="#3a5ca6" stroke="#3a5ca6" stroke-width="0.5">12,0</text>
<line x1="-16" y1="-423.7" x2="16" y2="-423.7" stroke="#3d61ad" stroke-width="3.8"/>
<text x="-120.0" y="-411.4" font-size="44.5" font-weight="bold" fill="#3a5ca6" stroke="#3a5ca6" stroke-width="0.5">14,0</text>
<line x1="745.6" y1="-423.7" x2="745.6" y2="0" stroke="#e02e6c" stroke-width="3.8"/>
<line x1="729.6" y1="0.0" x2="762.6" y2="0.0" stroke="#e02e6c" stroke-width="3.8"/>
<text x="778.8" y="13.8" font-size="45" font-weight="bold" fill="#dc1a5c" stroke="#dc1a5c" stroke-width="0.5">-3,0</text>
<line x1="729.6" y1="-84.7" x2="762.6" y2="-84.7" stroke="#e02e6c" stroke-width="3.8"/>
<text x="778.8" y="-70.9" font-size="45" font-weight="bold" fill="#dc1a5c" stroke="#dc1a5c" stroke-width="0.5">-1,0</text>
<line x1="729.6" y1="-169.5" x2="762.6" y2="-169.5" stroke="#e02e6c" stroke-width="3.8"/>
<text x="777.9" y="-155.7" font-size="45" font-weight="bold" fill="#dc1a5c" stroke="#dc1a5c" stroke-width="0.5">1,0</text>
<line x1="729.6" y1="-254.2" x2="762.6" y2="-254.2" stroke="#e02e6c" stroke-width="3.8"/>
<text x="779.5" y="-240.4" font-size="45" font-weight="bold" fill="#dc1a5c" stroke="#dc1a5c" stroke-width="0.5">3,0</text>
<line x1="729.6" y1="-339.0" x2="762.6" y2="-339.0" stroke="#e02e6c" stroke-width="3.8"/>
<text x="779.2" y="-325.2" font-size="45" font-weight="bold" fill="#dc1a5c" stroke="#dc1a5c" stroke-width="0.5">5,0</text>
<line x1="729.6" y1="-423.7" x2="762.6" y2="-423.7" stroke="#e02e6c" stroke-width="3.8"/>
<text x="778.8" y="-409.9" font-size="45" font-weight="bold" fill="#dc1a5c" stroke="#dc1a5c" stroke-width="0.5">7,0</text>
<text transform="translate(-151.5,-23.4) rotate(-90)" x="-2.7" y="0" font-size="41" font-weight="bold" fill="#3a5ca6" stroke="#3a5ca6" stroke-width="0.5" textLength="392.7" lengthAdjust="spacingAndGlyphs">Niederschlag in mm</text>
<text transform="translate(915.1,25.0) rotate(-90)" x="-3.0" y="0" font-size="46.5" font-weight="bold" fill="#dc1a5c" stroke="#dc1a5c" stroke-width="0.5" textLength="471.9" lengthAdjust="spacingAndGlyphs">mittl. Temperatur in°C</text>
<polyline points="47.0,-237.1 156.0,-229.4 263.1,-191.7 370.3,-122.0 478.3,-119.3 580.7,-340.5 700.2,-335.2" fill="none" stroke="#e2175b" stroke-width="14.5" stroke-linejoin="miter" stroke-miterlimit="3"/>
</g>
<g transform="translate(1959.0,2372.1)">
<text x="240.4" y="184.4" font-size="61" font-weight="bold" fill="#262223" stroke="#262223" stroke-width="0.6" textLength="264.2" lengthAdjust="spacingAndGlyphs">Potsdam</text>
<text x="14.4" y="81.6" font-size="45" font-weight="bold" fill="#262223" stroke="#262223" stroke-width="0.5">Mo.</text>
<text x="130.7" y="81.6" font-size="45" font-weight="bold" fill="#262223" stroke="#262223" stroke-width="0.5">Di.</text>
<text x="234.6" y="81.6" font-size="45" font-weight="bold" fill="#262223" stroke="#262223" stroke-width="0.5">Mi.</text>
<text x="335.8" y="81.6" font-size="45" font-weight="bold" fill="#262223" stroke="#262223" stroke-width="0.5">Do.</text>
<text x="450.8" y="81.6" font-size="45" font-weight="bold" fill="#262223" stroke="#262223" stroke-width="0.5">Fr.</text>
<text x="551.6" y="81.6" font-size="45" font-weight="bold" fill="#262223" stroke="#262223" stroke-width="0.5">Sa.</text>
<text x="656.7" y="81.6" font-size="45" font-weight="bold" fill="#262223" stroke="#262223" stroke-width="0.5">So.</text>
<rect x="668.9" y="-388.4" width="41.0" height="388.4" fill="#2d5cb2" stroke="#20232c" stroke-width="5"/>
<line x1="16.0" y1="-422.8" x2="728.0" y2="-422.8" stroke="#262223" stroke-width="4.2"/>
<line x1="0" y1="0" x2="744.0" y2="0" stroke="#262223" stroke-width="4.6"/>
<line x1="0.0" y1="0" x2="0.0" y2="15.5" stroke="#262223" stroke-width="4.4"/>
<line x1="106.3" y1="0" x2="106.3" y2="15.5" stroke="#262223" stroke-width="4.4"/>
<line x1="212.6" y1="0" x2="212.6" y2="15.5" stroke="#262223" stroke-width="4.4"/>
<line x1="318.9" y1="0" x2="318.9" y2="15.5" stroke="#262223" stroke-width="4.4"/>
<line x1="425.1" y1="0" x2="425.1" y2="15.5" stroke="#262223" stroke-width="4.4"/>
<line x1="531.4" y1="0" x2="531.4" y2="15.5" stroke="#262223" stroke-width="4.4"/>
<line x1="637.7" y1="0" x2="637.7" y2="15.5" stroke="#262223" stroke-width="4.4"/>
<line x1="744.0" y1="0" x2="744.0" y2="15.5" stroke="#262223" stroke-width="4.4"/>
<line x1="0" y1="-422.8" x2="0" y2="0" stroke="#3d61ad" stroke-width="3.8"/>
<line x1="-16" y1="0.0" x2="0" y2="0.0" stroke="#3d61ad" stroke-width="3.8"/>
<text x="-95.3" y="12.3" font-size="44.5" font-weight="bold" fill="#3a5ca6" stroke="#3a5ca6" stroke-width="0.5">0,0</text>
<line x1="-16" y1="-60.4" x2="16" y2="-60.4" stroke="#3d61ad" stroke-width="3.8"/>
<text x="-95.3" y="-48.1" font-size="44.5" font-weight="bold" fill="#3a5ca6" stroke="#3a5ca6" stroke-width="0.5">2,0</text>
<line x1="-16" y1="-120.8" x2="16" y2="-120.8" stroke="#3d61ad" stroke-width="3.8"/>
<text x="-95.3" y="-108.5" font-size="44.5" font-weight="bold" fill="#3a5ca6" stroke="#3a5ca6" stroke-width="0.5">4,0</text>
<line x1="-16" y1="-181.2" x2="16" y2="-181.2" stroke="#3d61ad" stroke-width="3.8"/>
<text x="-95.3" y="-168.9" font-size="44.5" font-weight="bold" fill="#3a5ca6" stroke="#3a5ca6" stroke-width="0.5">6,0</text>
<line x1="-16" y1="-241.6" x2="16" y2="-241.6" stroke="#3d61ad" stroke-width="3.8"/>
<text x="-95.3" y="-229.3" font-size="44.5" font-weight="bold" fill="#3a5ca6" stroke="#3a5ca6" stroke-width="0.5">8,0</text>
<line x1="-16" y1="-302.0" x2="16" y2="-302.0" stroke="#3d61ad" stroke-width="3.8"/>
<text x="-120.0" y="-289.7" font-size="44.5" font-weight="bold" fill="#3a5ca6" stroke="#3a5ca6" stroke-width="0.5">10,0</text>
<line x1="-16" y1="-362.4" x2="16" y2="-362.4" stroke="#3d61ad" stroke-width="3.8"/>
<text x="-120.0" y="-350.1" font-size="44.5" font-weight="bold" fill="#3a5ca6" stroke="#3a5ca6" stroke-width="0.5">12,0</text>
<line x1="-16" y1="-422.8" x2="16" y2="-422.8" stroke="#3d61ad" stroke-width="3.8"/>
<text x="-120.0" y="-410.5" font-size="44.5" font-weight="bold" fill="#3a5ca6" stroke="#3a5ca6" stroke-width="0.5">14,0</text>
<line x1="744.0" y1="-422.8" x2="744.0" y2="0" stroke="#e02e6c" stroke-width="3.8"/>
<line x1="728.0" y1="0.0" x2="761.0" y2="0.0" stroke="#e02e6c" stroke-width="3.8"/>
<text x="777.2" y="13.8" font-size="45" font-weight="bold" fill="#dc1a5c" stroke="#dc1a5c" stroke-width="0.5">-3,0</text>
<line x1="728.0" y1="-84.6" x2="761.0" y2="-84.6" stroke="#e02e6c" stroke-width="3.8"/>
<text x="777.2" y="-70.8" font-size="45" font-weight="bold" fill="#dc1a5c" stroke="#dc1a5c" stroke-width="0.5">-1,0</text>
<line x1="728.0" y1="-169.1" x2="761.0" y2="-169.1" stroke="#e02e6c" stroke-width="3.8"/>
<text x="776.3" y="-155.3" font-size="45" font-weight="bold" fill="#dc1a5c" stroke="#dc1a5c" stroke-width="0.5">1,0</text>
<line x1="728.0" y1="-253.7" x2="761.0" y2="-253.7" stroke="#e02e6c" stroke-width="3.8"/>
<text x="777.9" y="-239.9" font-size="45" font-weight="bold" fill="#dc1a5c" stroke="#dc1a5c" stroke-width="0.5">3,0</text>
<line x1="728.0" y1="-338.2" x2="761.0" y2="-338.2" stroke="#e02e6c" stroke-width="3.8"/>
<text x="777.6" y="-324.4" font-size="45" font-weight="bold" fill="#dc1a5c" stroke="#dc1a5c" stroke-width="0.5">5,0</text>
<line x1="728.0" y1="-422.8" x2="761.0" y2="-422.8" stroke="#e02e6c" stroke-width="3.8"/>
<text x="777.2" y="-409.0" font-size="45" font-weight="bold" fill="#dc1a5c" stroke="#dc1a5c" stroke-width="0.5">7,0</text>
<text transform="translate(-151.5,-23.4) rotate(-90)" x="-2.7" y="0" font-size="41" font-weight="bold" fill="#3a5ca6" stroke="#3a5ca6" stroke-width="0.5" textLength="391.8" lengthAdjust="spacingAndGlyphs">Niederschlag in mm</text>
<text transform="translate(913.5,25.0) rotate(-90)" x="-2.9" y="0" font-size="46.5" font-weight="bold" fill="#dc1a5c" stroke="#dc1a5c" stroke-width="0.5" textLength="471.0" lengthAdjust="spacingAndGlyphs">mittl. Temperatur in°C</text>
<polyline points="46.8,-232.3 157.9,-209.6 269.0,-162.9 372.1,-106.2 480.1,-110.5 582.5,-337.7 696.5,-326.0" fill="none" stroke="#e2175b" stroke-width="14.5" stroke-linejoin="miter" stroke-miterlimit="3"/>
</g>
<g transform="translate(1955.0,3020.2)">
<text x="258.6" y="179.6" font-size="61" font-weight="bold" fill="#262223" stroke="#262223" stroke-width="0.6" textLength="232.9" lengthAdjust="spacingAndGlyphs">Cottbus</text>
<text x="15.1" y="79.2" font-size="45" font-weight="bold" fill="#262223" stroke="#262223" stroke-width="0.5">Mo.</text>
<text x="132.8" y="79.2" font-size="45" font-weight="bold" fill="#262223" stroke="#262223" stroke-width="0.5">Di.</text>
<text x="237.9" y="79.2" font-size="45" font-weight="bold" fill="#262223" stroke="#262223" stroke-width="0.5">Mi.</text>
<text x="340.5" y="79.2" font-size="45" font-weight="bold" fill="#262223" stroke="#262223" stroke-width="0.5">Do.</text>
<text x="456.9" y="79.2" font-size="45" font-weight="bold" fill="#262223" stroke="#262223" stroke-width="0.5">Fr.</text>
<text x="559.1" y="79.2" font-size="45" font-weight="bold" fill="#262223" stroke="#262223" stroke-width="0.5">Sa.</text>
<text x="665.5" y="79.2" font-size="45" font-weight="bold" fill="#262223" stroke="#262223" stroke-width="0.5">So.</text>
<rect x="677.0" y="-241.6" width="43.0" height="241.6" fill="#2d5cb2" stroke="#20232c" stroke-width="5"/>
<line x1="16.0" y1="-423.3" x2="737.5" y2="-423.3" stroke="#262223" stroke-width="4.2"/>
<line x1="0" y1="0" x2="753.5" y2="0" stroke="#262223" stroke-width="4.6"/>
<line x1="0.0" y1="0" x2="0.0" y2="15.5" stroke="#262223" stroke-width="4.4"/>
<line x1="107.6" y1="0" x2="107.6" y2="15.5" stroke="#262223" stroke-width="4.4"/>
<line x1="215.3" y1="0" x2="215.3" y2="15.5" stroke="#262223" stroke-width="4.4"/>
<line x1="322.9" y1="0" x2="322.9" y2="15.5" stroke="#262223" stroke-width="4.4"/>
<line x1="430.6" y1="0" x2="430.6" y2="15.5" stroke="#262223" stroke-width="4.4"/>
<line x1="538.2" y1="0" x2="538.2" y2="15.5" stroke="#262223" stroke-width="4.4"/>
<line x1="645.9" y1="0" x2="645.9" y2="15.5" stroke="#262223" stroke-width="4.4"/>
<line x1="753.5" y1="0" x2="753.5" y2="15.5" stroke="#262223" stroke-width="4.4"/>
<line x1="0" y1="-423.3" x2="0" y2="0" stroke="#3d61ad" stroke-width="3.8"/>
<line x1="-16" y1="0.0" x2="0" y2="0.0" stroke="#3d61ad" stroke-width="3.8"/>
<text x="-95.3" y="12.3" font-size="44.5" font-weight="bold" fill="#3a5ca6" stroke="#3a5ca6" stroke-width="0.5">0,0</text>
<line x1="-16" y1="-60.5" x2="16" y2="-60.5" stroke="#3d61ad" stroke-width="3.8"/>
<text x="-95.3" y="-48.2" font-size="44.5" font-weight="bold" fill="#3a5ca6" stroke="#3a5ca6" stroke-width="0.5">2,0</text>
<line x1="-16" y1="-120.9" x2="16" y2="-120.9" stroke="#3d61ad" stroke-width="3.8"/>
<text x="-95.3" y="-108.6" font-size="44.5" font-weight="bold" fill="#3a5ca6" stroke="#3a5ca6" stroke-width="0.5">4,0</text>
<line x1="-16" y1="-181.4" x2="16" y2="-181.4" stroke="#3d61ad" stroke-width="3.8"/>
<text x="-95.3" y="-169.1" font-size="44.5" font-weight="bold" fill="#3a5ca6" stroke="#3a5ca6" stroke-width="0.5">6,0</text>
<line x1="-16" y1="-241.9" x2="16" y2="-241.9" stroke="#3d61ad" stroke-width="3.8"/>
<text x="-95.3" y="-229.6" font-size="44.5" font-weight="bold" fill="#3a5ca6" stroke="#3a5ca6" stroke-width="0.5">8,0</text>
<line x1="-16" y1="-302.4" x2="16" y2="-302.4" stroke="#3d61ad" stroke-width="3.8"/>
<text x="-120.0" y="-290.1" font-size="44.5" font-weight="bold" fill="#3a5ca6" stroke="#3a5ca6" stroke-width="0.5">10,0</text>
<line x1="-16" y1="-362.8" x2="16" y2="-362.8" stroke="#3d61ad" stroke-width="3.8"/>
<text x="-120.0" y="-350.5" font-size="44.5" font-weight="bold" fill="#3a5ca6" stroke="#3a5ca6" stroke-width="0.5">12,0</text>
<line x1="-16" y1="-423.3" x2="16" y2="-423.3" stroke="#3d61ad" stroke-width="3.8"/>
<text x="-120.0" y="-411.0" font-size="44.5" font-weight="bold" fill="#3a5ca6" stroke="#3a5ca6" stroke-width="0.5">14,0</text>
<line x1="753.5" y1="-423.3" x2="753.5" y2="0" stroke="#e02e6c" stroke-width="3.8"/>
<line x1="737.5" y1="0.0" x2="770.5" y2="0.0" stroke="#e02e6c" stroke-width="3.8"/>
<text x="786.7" y="13.8" font-size="45" font-weight="bold" fill="#dc1a5c" stroke="#dc1a5c" stroke-width="0.5">-3,0</text>
<line x1="737.5" y1="-84.7" x2="770.5" y2="-84.7" stroke="#e02e6c" stroke-width="3.8"/>
<text x="786.7" y="-70.9" font-size="45" font-weight="bold" fill="#dc1a5c" stroke="#dc1a5c" stroke-width="0.5">-1,0</text>
<line x1="737.5" y1="-169.3" x2="770.5" y2="-169.3" stroke="#e02e6c" stroke-width="3.8"/>
<text x="785.8" y="-155.5" font-size="45" font-weight="bold" fill="#dc1a5c" stroke="#dc1a5c" stroke-width="0.5">1,0</text>
<line x1="737.5" y1="-254.0" x2="770.5" y2="-254.0" stroke="#e02e6c" stroke-width="3.8"/>
<text x="787.4" y="-240.2" font-size="45" font-weight="bold" fill="#dc1a5c" stroke="#dc1a5c" stroke-width="0.5">3,0</text>
<line x1="737.5" y1="-338.6" x2="770.5" y2="-338.6" stroke="#e02e6c" stroke-width="3.8"/>
<text x="787.1" y="-324.8" font-size="45" font-weight="bold" fill="#dc1a5c" stroke="#dc1a5c" stroke-width="0.5">5,0</text>
<line x1="737.5" y1="-423.3" x2="770.5" y2="-423.3" stroke="#e02e6c" stroke-width="3.8"/>
<text x="786.7" y="-409.5" font-size="45" font-weight="bold" fill="#dc1a5c" stroke="#dc1a5c" stroke-width="0.5">7,0</text>
<text transform="translate(-151.5,-23.4) rotate(-90)" x="-2.7" y="0" font-size="41" font-weight="bold" fill="#3a5ca6" stroke="#3a5ca6" stroke-width="0.5" textLength="392.3" lengthAdjust="spacingAndGlyphs">Niederschlag in mm</text>
<text transform="translate(923.0,25.0) rotate(-90)" x="-3.0" y="0" font-size="46.5" font-weight="bold" fill="#dc1a5c" stroke="#dc1a5c" stroke-width="0.5" textLength="471.5" lengthAdjust="spacingAndGlyphs">mittl. Temperatur in°C</text>
<polyline points="45.5,-246.4 159.6,-193.7 268.7,-143.0 375.0,-40.3 486.7,-159.6 590.1,-374.8 701.3,-289.1" fill="none" stroke="#e2175b" stroke-width="14.5" stroke-linejoin="miter" stroke-miterlimit="3"/>
</g>
<g transform="translate(1958.5,3769.0)">
<text x="202.7" y="184.3" font-size="61" font-weight="bold" fill="#262223" stroke="#262223" stroke-width="0.6" textLength="338.1" lengthAdjust="spacingAndGlyphs">Magdeburg</text>
<text x="14.5" y="80.8" font-size="45" font-weight="bold" fill="#262223" stroke="#262223" stroke-width="0.5">Mo.</text>
<text x="131.0" y="80.8" font-size="45" font-weight="bold" fill="#262223" stroke="#262223" stroke-width="0.5">Di.</text>
<text x="234.9" y="80.8" font-size="45" font-weight="bold" fill="#262223" stroke="#262223" stroke-width="0.5">Mi.</text>
<text x="336.3" y="80.8" font-size="45" font-weight="bold" fill="#262223" stroke="#262223" stroke-width="0.5">Do.</text>
<text x="451.5" y="80.8" font-size="45" font-weight="bold" fill="#262223" stroke="#262223" stroke-width="0.5">Fr.</text>
<text x="552.4" y="80.8" font-size="45" font-weight="bold" fill="#262223" stroke="#262223" stroke-width="0.5">Sa.</text>
<text x="657.6" y="80.8" font-size="45" font-weight="bold" fill="#262223" stroke="#262223" stroke-width="0.5">So.</text>
<rect x="670.2" y="-316.3" width="41.0" height="316.3" fill="#2d5cb2" stroke="#20232c" stroke-width="5"/>
<rect x="454.5" y="-4.3" width="47.0" height="4.3" fill="#20232c"/>
<line x1="16.0" y1="-421.9" x2="729.0" y2="-421.9" stroke="#262223" stroke-width="4.2"/>
<line x1="0" y1="0" x2="745.0" y2="0" stroke="#262223" stroke-width="4.6"/>
<line x1="0.0" y1="0" x2="0.0" y2="15.5" stroke="#262223" stroke-width="4.4"/>
<line x1="106.4" y1="0" x2="106.4" y2="15.5" stroke="#262223" stroke-width="4.4"/>
<line x1="212.9" y1="0" x2="212.9" y2="15.5" stroke="#262223" stroke-width="4.4"/>
<line x1="319.3" y1="0" x2="319.3" y2="15.5" stroke="#262223" stroke-width="4.4"/>
<line x1="425.7" y1="0" x2="425.7" y2="15.5" stroke="#262223" stroke-width="4.4"/>
<line x1="532.1" y1="0" x2="532.1" y2="15.5" stroke="#262223" stroke-width="4.4"/>
<line x1="638.6" y1="0" x2="638.6" y2="15.5" stroke="#262223" stroke-width="4.4"/>
<line x1="745.0" y1="0" x2="745.0" y2="15.5" stroke="#262223" stroke-width="4.4"/>
<line x1="0" y1="-421.9" x2="0" y2="0" stroke="#3d61ad" stroke-width="3.8"/>
<line x1="-16" y1="0.0" x2="0" y2="0.0" stroke="#3d61ad" stroke-width="3.8"/>
<text x="-95.3" y="12.3" font-size="44.5" font-weight="bold" fill="#3a5ca6" stroke="#3a5ca6" stroke-width="0.5">0,0</text>
<line x1="-16" y1="-60.3" x2="16" y2="-60.3" stroke="#3d61ad" stroke-width="3.8"/>
<text x="-95.3" y="-48.0" font-size="44.5" font-weight="bold" fill="#3a5ca6" stroke="#3a5ca6" stroke-width="0.5">2,0</text>
<line x1="-16" y1="-120.5" x2="16" y2="-120.5" stroke="#3d61ad" stroke-width="3.8"/>
<text x="-95.3" y="-108.2" font-size="44.5" font-weight="bold" fill="#3a5ca6" stroke="#3a5ca6" stroke-width="0.5">4,0</text>
<line x1="-16" y1="-180.8" x2="16" y2="-180.8" stroke="#3d61ad" stroke-width="3.8"/>
<text x="-95.3" y="-168.5" font-size="44.5" font-weight="bold" fill="#3a5ca6" stroke="#3a5ca6" stroke-width="0.5">6,0</text>
<line x1="-16" y1="-241.1" x2="16" y2="-241.1" stroke="#3d61ad" stroke-width="3.8"/>
<text x="-95.3" y="-228.8" font-size="44.5" font-weight="bold" fill="#3a5ca6" stroke="#3a5ca6" stroke-width="0.5">8,0</text>
<line x1="-16" y1="-301.4" x2="16" y2="-301.4" stroke="#3d61ad" stroke-width="3.8"/>
<text x="-120.0" y="-289.1" font-size="44.5" font-weight="bold" fill="#3a5ca6" stroke="#3a5ca6" stroke-width="0.5">10,0</text>
<line x1="-16" y1="-361.6" x2="16" y2="-361.6" stroke="#3d61ad" stroke-width="3.8"/>
<text x="-120.0" y="-349.3" font-size="44.5" font-weight="bold" fill="#3a5ca6" stroke="#3a5ca6" stroke-width="0.5">12,0</text>
<line x1="-16" y1="-421.9" x2="16" y2="-421.9" stroke="#3d61ad" stroke-width="3.8"/>
<text x="-120.0" y="-409.6" font-size="44.5" font-weight="bold" fill="#3a5ca6" stroke="#3a5ca6" stroke-width="0.5">14,0</text>
<line x1="745.0" y1="-421.9" x2="745.0" y2="0" stroke="#e02e6c" stroke-width="3.8"/>
<line x1="729.0" y1="0.0" x2="762.0" y2="0.0" stroke="#e02e6c" stroke-width="3.8"/>
<text x="778.2" y="13.8" font-size="45" font-weight="bold" fill="#dc1a5c" stroke="#dc1a5c" stroke-width="0.5">-3,0</text>
<line x1="729.0" y1="-84.4" x2="762.0" y2="-84.4" stroke="#e02e6c" stroke-width="3.8"/>
<text x="778.2" y="-70.6" font-size="45" font-weight="bold" fill="#dc1a5c" stroke="#dc1a5c" stroke-width="0.5">-1,0</text>
<line x1="729.0" y1="-168.8" x2="762.0" y2="-168.8" stroke="#e02e6c" stroke-width="3.8"/>
<text x="777.3" y="-155.0" font-size="45" font-weight="bold" fill="#dc1a5c" stroke="#dc1a5c" stroke-width="0.5">1,0</text>
<line x1="729.0" y1="-253.1" x2="762.0" y2="-253.1" stroke="#e02e6c" stroke-width="3.8"/>
<text x="778.9" y="-239.3" font-size="45" font-weight="bold" fill="#dc1a5c" stroke="#dc1a5c" stroke-width="0.5">3,0</text>
<line x1="729.0" y1="-337.5" x2="762.0" y2="-337.5" stroke="#e02e6c" stroke-width="3.8"/>
<text x="778.6" y="-323.7" font-size="45" font-weight="bold" fill="#dc1a5c" stroke="#dc1a5c" stroke-width="0.5">5,0</text>
<line x1="729.0" y1="-421.9" x2="762.0" y2="-421.9" stroke="#e02e6c" stroke-width="3.8"/>
<text x="778.2" y="-408.1" font-size="45" font-weight="bold" fill="#dc1a5c" stroke="#dc1a5c" stroke-width="0.5">7,0</text>
<text transform="translate(-151.5,-23.4) rotate(-90)" x="-2.7" y="0" font-size="41" font-weight="bold" fill="#3a5ca6" stroke="#3a5ca6" stroke-width="0.5" textLength="390.9" lengthAdjust="spacingAndGlyphs">Niederschlag in mm</text>
<text transform="translate(914.5,25.0) rotate(-90)" x="-2.9" y="0" font-size="46.5" font-weight="bold" fill="#dc1a5c" stroke="#dc1a5c" stroke-width="0.5" textLength="470.1" lengthAdjust="spacingAndGlyphs">mittl. Temperatur in°C</text>
<polyline points="46.9,-218.2 159.8,-254.5 265.0,-194.8 373.6,-183.1 482.2,-297.0 584.5,-390.6 693.2,-301.9" fill="none" stroke="#e2175b" stroke-width="14.5" stroke-linejoin="miter" stroke-miterlimit="3"/>
</g>
<text x="312.6" y="4196.5" font-size="47" fill="#262223" stroke="#262223" stroke-width="0.7" textLength="2520.6" lengthAdjust="spacingAndGlyphs">Deutscher Wetterdienst - Regionales Gutachtenbüro - Michendorfer Chaussee 23 - 14473 Potsdam  -  Tel.: 0331/316-444</text>
<text x="312.9" y="4250.8" font-size="47" fill="#262223" stroke="#262223" stroke-width="0.7" textLength="2575.7" lengthAdjust="spacingAndGlyphs">Fax: 0331/316-299  -  E-Mail: klima.potsdam@dwd.de  -   Einzelpreis: € 2,32 Jahres-Abonnement-Preis: € 87,00 incl. MWSt.</text>
<text x="313.9" y="4303.2" font-size="47" fill="#262223" stroke="#262223" stroke-width="0.7" textLength="1175.5" lengthAdjust="spacingAndGlyphs">(Einzelexemplare nur erhältlich unter www.dwd-shop.de)</text>
</svg>
<div class="box" style="left:311.3px;top:2333.2px;width:1423px;height:1658px"></div>
<div class="para" style="left:359.9px;top:2373.0px">
<div class="l">Wochenrückblick:</div>
<div class="j">Ein Hochdruckgebiet sorgte in dieser Woche für</div>
<div class="j">überwiegend ruhiges Herbstwetter mit Nebel in den</div>
<div class="j">Frühstunden und von Dienstag bis Donnerstag für</div>
<div class="j">reichlich Sonnenschein von 7 bis 8 Stunden.</div>
<div class="j">Dennoch stiegen in der kalten Luftmasse&#160;&#160; die Tem-</div>
<div class="j">peraturen bis einschließlich Freitag kaum über 7 °C</div>
<div class="j">an. In den meist klaren Nächten traten Bodenfröste</div>
<div class="j">auf. In Schönefeld und Cottbus sanken die Werte in</div>
<div class="j">der Nacht zum Freitag&#160; bis auf knapp -6°C ab. Im</div>
<div class="j">Verlaufe des Freitags sorgte der zunehmende</div>
<div class="j">Einfluss eines Tiefdruckgebietes für mildes und</div>
<div class="j">wolkenreiches Wetter. Zu nennenswerten</div>
<div class="j">Niederschlägen kam es lediglich in den</div>
<div class="l">Sonntagabendstunden und in der Nacht zu Montag.</div>
<div class="j">Das Wochenmittel der Lufttemperatur betrug 1 bis 2</div>
<div class="j">Grad und liegt damit etwa 3 Grad unter dem</div>
<div class="j">Normalwert. In der Uckermark blieben am</div>
<div class="j">Donnerstag im Dauernebel ganztags die</div>
<div class="j">Temperaturen unter 0°C, d. h. es gab dort den</div>
<div class="l">ersten Eistag dieses Winterhalbjahres.</div>
<div class="j">Die Sonne schien überdurchschnittlich und erreichte</div>
<div class="j">in Gardelegen und Neuruppin mehr als das</div>
<div class="l">Doppelte ihres "Sollwertes".</div>
</div>
</div>
</body></html>
